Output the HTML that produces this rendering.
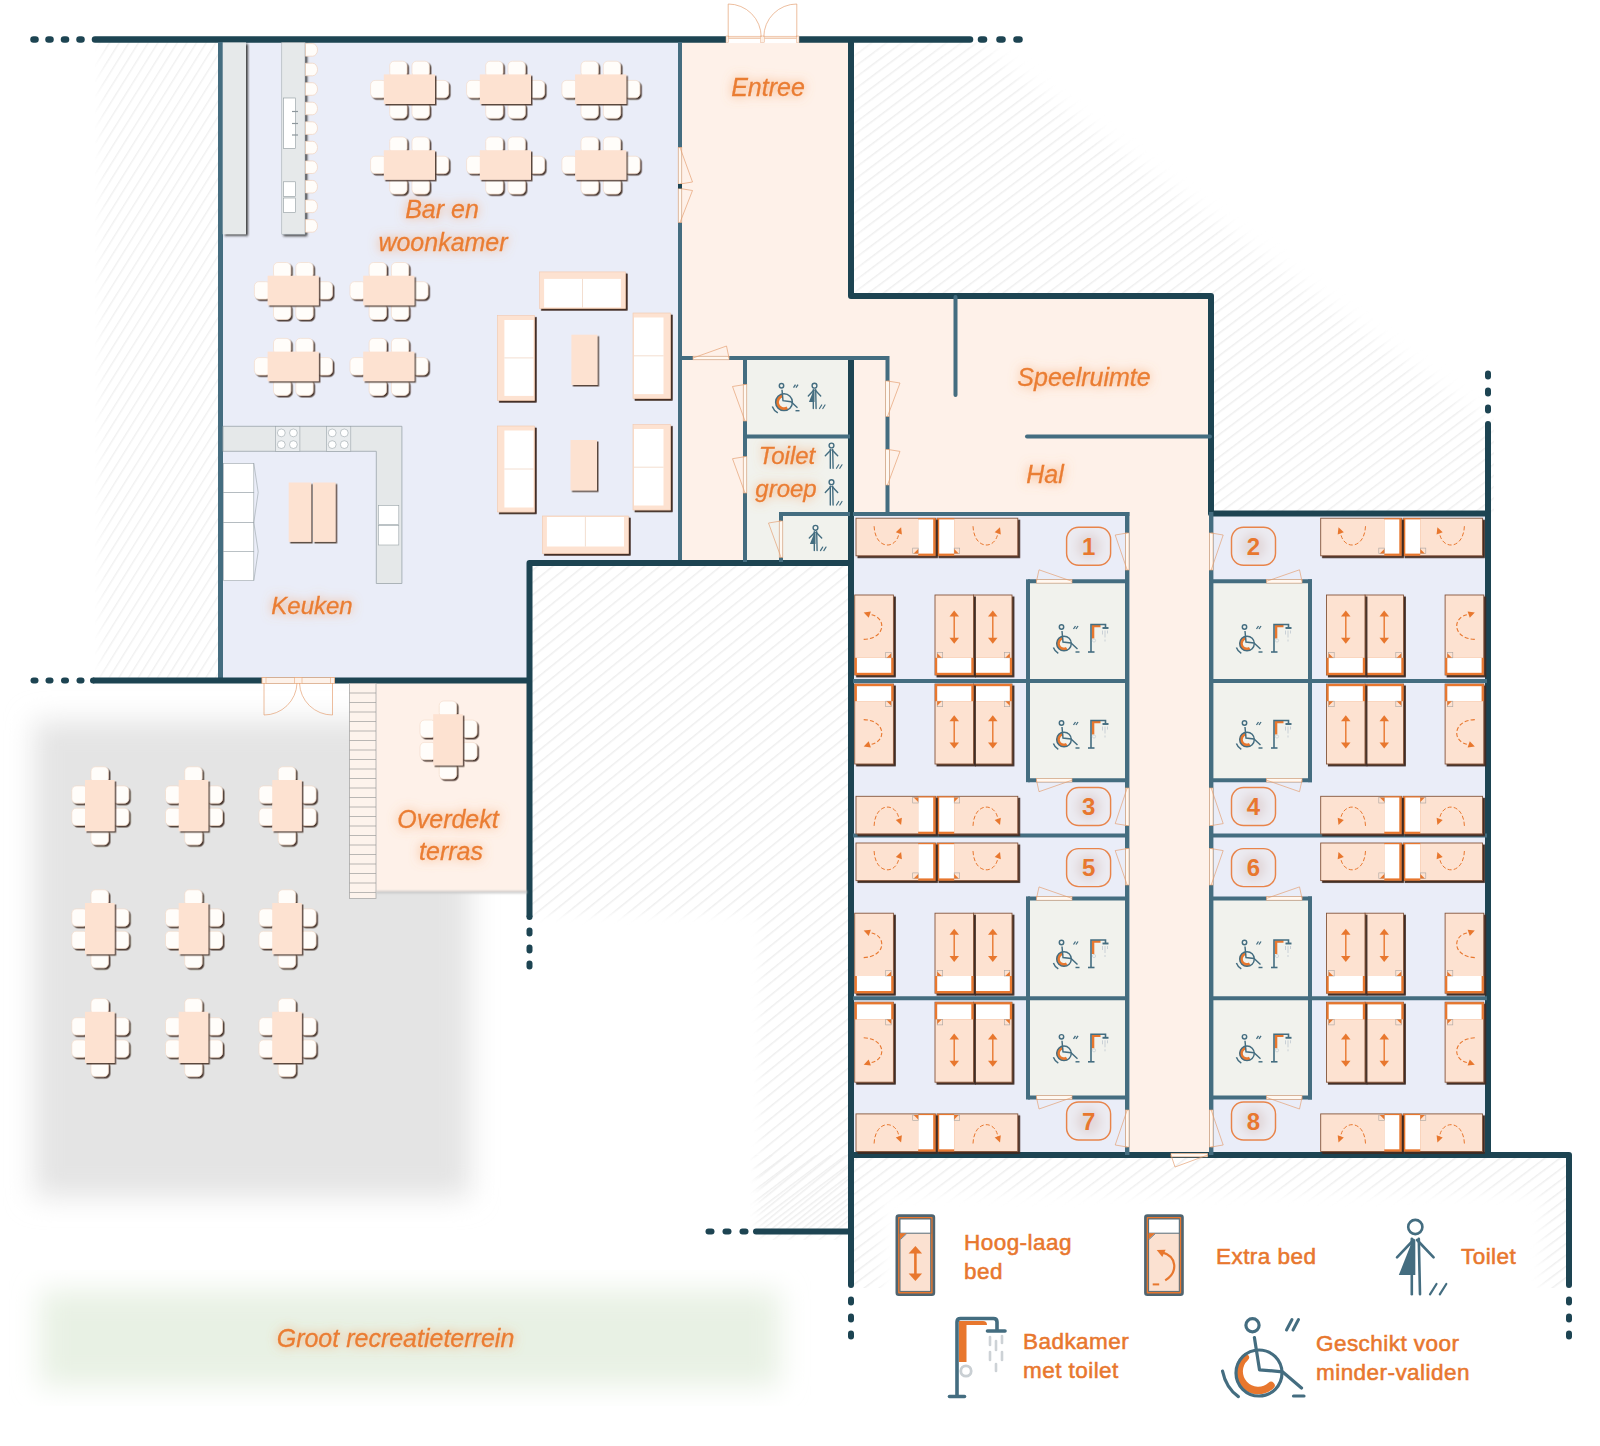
<!DOCTYPE html>
<html><head><meta charset="utf-8"><title>Plattegrond</title>
<style>
html,body{margin:0;padding:0;background:#fff;width:1600px;height:1446px;overflow:hidden}
svg{display:block}
text{font-family:"Liberation Sans",sans-serif}
</style></head><body>
<svg width="1600" height="1446" viewBox="0 0 1600 1446">

<defs>
<pattern id="hatch" patternUnits="userSpaceOnUse" width="9" height="10" patternTransform="rotate(53)">
  <rect x="0" y="0" width="1.5" height="10" fill="#efefef"/>
</pattern>
<pattern id="hatch3" patternUnits="userSpaceOnUse" width="9.6" height="10" patternTransform="rotate(51)">
  <rect x="0" y="0" width="1.5" height="10" fill="#efefef"/>
</pattern>
<pattern id="hatch2" patternUnits="userSpaceOnUse" width="8.2" height="10" patternTransform="rotate(32)">
  <rect x="0" y="0" width="1.4" height="10" fill="#f1f1f1"/>
</pattern>
<filter id="blur1" x="-20%" y="-200%" width="140%" height="500%"><feGaussianBlur stdDeviation="0.8"/></filter>
<filter id="blur4" x="-20%" y="-20%" width="140%" height="140%"><feGaussianBlur stdDeviation="4"/></filter>
<filter id="blur6" x="-20%" y="-20%" width="140%" height="140%"><feGaussianBlur stdDeviation="6"/></filter>
<filter id="blur8" x="-20%" y="-20%" width="140%" height="140%"><feGaussianBlur stdDeviation="8"/></filter>
<filter id="blur14" x="-20%" y="-20%" width="140%" height="140%"><feGaussianBlur stdDeviation="14"/></filter>
<filter id="sh" x="-20%" y="-20%" width="150%" height="150%">
  <feDropShadow dx="1.5" dy="1.5" stdDeviation="0.7" flood-color="#4a3428" flood-opacity="0.9"/>
</filter>
<filter id="shb" x="-20%" y="-20%" width="150%" height="150%">
  <feDropShadow dx="1.9" dy="1.9" stdDeviation="0.7" flood-color="#3f2a20" flood-opacity="1"/>
</filter>
<filter id="sh3" x="-20%" y="-20%" width="150%" height="150%">
  <feDropShadow dx="2" dy="1.6" stdDeviation="0.9" flood-color="#2e2e2e" flood-opacity="0.9"/>
</filter>
<filter id="sh2" x="-20%" y="-20%" width="150%" height="150%">
  <feDropShadow dx="1.6" dy="1.6" stdDeviation="0.7" flood-color="#3f2a20" flood-opacity="0.95"/>
</filter>
<filter id="glow" x="-40%" y="-120%" width="180%" height="340%">
  <feGaussianBlur in="SourceAlpha" stdDeviation="5.5" result="b"/>
  <feFlood flood-color="#f5a063" flood-opacity="0.9"/>
  <feComposite in2="b" operator="in" result="g"/>
  <feMerge><feMergeNode in="g"/><feMergeNode in="SourceGraphic"/></feMerge>
</filter>
<mask id="mTR" maskUnits="userSpaceOnUse" x="0" y="0" width="1600" height="1446">
  <polygon points="854,42 975,42 1500,430 1500,520 854,520" fill="#fff" filter="url(#blur8)"/>
</mask>
<mask id="mL" maskUnits="userSpaceOnUse" x="0" y="0" width="1600" height="1446">
  <rect x="100" y="30" width="140" height="660" fill="#fff" filter="url(#blur4)"/>
</mask>
<mask id="mC" maskUnits="userSpaceOnUse" x="0" y="0" width="1600" height="1446">
  <polygon points="520,555 860,555 860,1240 760,1240 760,915 520,915" fill="#fff" filter="url(#blur4)"/>
</mask>
<mask id="mB" maskUnits="userSpaceOnUse" x="0" y="0" width="1600" height="1446">
  <rect x="756" y="1140" width="96" height="92" fill="#fff" filter="url(#blur4)"/>
  <rect x="852" y="1158" width="716" height="130" fill="#fff"/>
  <rect x="882" y="1194" width="660" height="260" fill="#000" filter="url(#blur6)"/>
</mask>
</defs>

<rect x="0.0" y="0.0" width="1600.0" height="1446.0" fill="#ffffff" />
<rect x="95.0" y="42.0" width="124.0" height="636.0" fill="url(#hatch2)" mask="url(#mL)"/>
<rect x="854.0" y="42.0" width="640.0" height="475.0" fill="url(#hatch)" mask="url(#mTR)"/>
<rect x="530.0" y="560.0" width="322.0" height="680.0" fill="url(#hatch3)" mask="url(#mC)"/>
<rect x="750.0" y="1155.0" width="830.0" height="260.0" fill="url(#hatch)" mask="url(#mB)"/>
<rect x="34.0" y="721.0" width="436.0" height="476.0" fill="#e4e4e4" filter="url(#blur14)"/>
<rect x="40.0" y="1290.0" width="740.0" height="96.0" fill="#e8f1e4" filter="url(#blur14)"/>
<rect x="220.0" y="42.0" width="460.0" height="523.0" fill="#eaedf8" />
<rect x="220.0" y="560.0" width="310.0" height="120.0" fill="#eaedf8" />
<rect x="680.0" y="42.0" width="170.0" height="316.0" fill="#fef1e9" />
<rect x="680.0" y="356.0" width="66.0" height="206.0" fill="#fef1e9" />
<rect x="850.0" y="296.0" width="362.0" height="220.0" fill="#fef1e9" />
<rect x="1127.0" y="512.0" width="84.0" height="642.0" fill="#fef1e9" />
<rect x="745.0" y="358.0" width="106.0" height="204.0" fill="#f1f2ed" />
<rect x="852.0" y="514.0" width="276.0" height="640.0" fill="#eaedf8" />
<rect x="1211.0" y="514.0" width="276.0" height="640.0" fill="#eaedf8" />
<rect x="1028.0" y="581.0" width="100.0" height="199.0" fill="#f1f2ed" />
<rect x="1211.0" y="581.0" width="99.0" height="199.0" fill="#f1f2ed" />
<rect x="1028.0" y="898.0" width="100.0" height="199.0" fill="#f1f2ed" />
<rect x="1211.0" y="898.0" width="99.0" height="199.0" fill="#f1f2ed" />
<rect x="376.0" y="682.0" width="153.0" height="210.0" fill="#fef1e9" />
<line x1="95.0" y1="39.5" x2="970.0" y2="39.5" stroke="#1d4452" stroke-width="6.5" stroke-linecap="round" />
<line x1="33.5" y1="39.5" x2="35.5" y2="39.5" stroke="#1d4452" stroke-width="6.5" stroke-linecap="round" />
<line x1="48.5" y1="39.5" x2="50.5" y2="39.5" stroke="#1d4452" stroke-width="6.5" stroke-linecap="round" />
<line x1="64.0" y1="39.5" x2="66.0" y2="39.5" stroke="#1d4452" stroke-width="6.5" stroke-linecap="round" />
<line x1="79.5" y1="39.5" x2="81.5" y2="39.5" stroke="#1d4452" stroke-width="6.5" stroke-linecap="round" />
<line x1="981.0" y1="39.5" x2="984.0" y2="39.5" stroke="#1d4452" stroke-width="6.5" stroke-linecap="round" />
<line x1="999.5" y1="39.5" x2="1002.5" y2="39.5" stroke="#1d4452" stroke-width="6.5" stroke-linecap="round" />
<line x1="1016.5" y1="39.5" x2="1019.5" y2="39.5" stroke="#1d4452" stroke-width="6.5" stroke-linecap="round" />
<line x1="220.5" y1="42.0" x2="220.5" y2="680.0" stroke="#446d80" stroke-width="5" stroke-linecap="butt" />
<line x1="680.0" y1="42.0" x2="680.0" y2="560.0" stroke="#446d80" stroke-width="4" stroke-linecap="butt" />
<path d="M851.0,37.0 L851.0,296.0 L1211.0,296.0 L1211.0,513.5 L1488.0,513.5" fill="none" stroke="#1d4452" stroke-width="6" stroke-linecap="butt" stroke-linejoin="round"/>
<path d="M1488.0,424.0 L1488.0,1155.0" fill="none" stroke="#1d4452" stroke-width="6" stroke-linecap="round" stroke-linejoin="round"/>
<line x1="1488.0" y1="373.5" x2="1488.0" y2="376.5" stroke="#1d4452" stroke-width="6" stroke-linecap="round" />
<line x1="1488.0" y1="390.5" x2="1488.0" y2="393.5" stroke="#1d4452" stroke-width="6" stroke-linecap="round" />
<line x1="1488.0" y1="407.5" x2="1488.0" y2="410.5" stroke="#1d4452" stroke-width="6" stroke-linecap="round" />
<path d="M851.0,356.5 L851.0,1285.0" fill="none" stroke="#1d4452" stroke-width="6" stroke-linecap="butt" stroke-linejoin="round"/>
<circle cx="851" cy="1285" r="3" fill="#1d4452"/>
<line x1="851.0" y1="1299.5" x2="851.0" y2="1302.5" stroke="#1d4452" stroke-width="6" stroke-linecap="round" />
<line x1="851.0" y1="1316.5" x2="851.0" y2="1319.5" stroke="#1d4452" stroke-width="6" stroke-linecap="round" />
<line x1="851.0" y1="1333.5" x2="851.0" y2="1336.5" stroke="#1d4452" stroke-width="6" stroke-linecap="round" />
<path d="M848.0,1155.0 L1569.0,1155.0 L1569.0,1285.0" fill="none" stroke="#1d4452" stroke-width="6" stroke-linecap="butt" stroke-linejoin="round"/>
<circle cx="1569" cy="1285" r="3" fill="#1d4452"/>
<line x1="1569.0" y1="1299.5" x2="1569.0" y2="1302.5" stroke="#1d4452" stroke-width="6" stroke-linecap="round" />
<line x1="1569.0" y1="1316.5" x2="1569.0" y2="1319.5" stroke="#1d4452" stroke-width="6" stroke-linecap="round" />
<line x1="1569.0" y1="1333.5" x2="1569.0" y2="1336.5" stroke="#1d4452" stroke-width="6" stroke-linecap="round" />
<line x1="756.0" y1="1231.5" x2="851.0" y2="1231.5" stroke="#1d4452" stroke-width="6" stroke-linecap="round" />
<line x1="708.5" y1="1231.5" x2="711.5" y2="1231.5" stroke="#1d4452" stroke-width="6" stroke-linecap="round" />
<line x1="725.5" y1="1231.5" x2="728.5" y2="1231.5" stroke="#1d4452" stroke-width="6" stroke-linecap="round" />
<line x1="742.5" y1="1231.5" x2="745.5" y2="1231.5" stroke="#1d4452" stroke-width="6" stroke-linecap="round" />
<path d="M93.0,680.5 L529.5,680.5" fill="none" stroke="#1d4452" stroke-width="6" stroke-linecap="butt" stroke-linejoin="round"/>
<circle cx="93" cy="680.5" r="3" fill="#1d4452"/>
<line x1="33.5" y1="680.5" x2="35.5" y2="680.5" stroke="#1d4452" stroke-width="6" stroke-linecap="round" />
<line x1="48.5" y1="680.5" x2="50.5" y2="680.5" stroke="#1d4452" stroke-width="6" stroke-linecap="round" />
<line x1="64.0" y1="680.5" x2="66.0" y2="680.5" stroke="#1d4452" stroke-width="6" stroke-linecap="round" />
<line x1="79.5" y1="680.5" x2="81.5" y2="680.5" stroke="#1d4452" stroke-width="6" stroke-linecap="round" />
<path d="M529.5,917.0 L529.5,563.0 L851.0,563.0" fill="none" stroke="#1d4452" stroke-width="6" stroke-linecap="butt" stroke-linejoin="round"/>
<circle cx="529.5" cy="917" r="3" fill="#1d4452"/>
<line x1="529.5" y1="930.5" x2="529.5" y2="933.5" stroke="#1d4452" stroke-width="6" stroke-linecap="round" />
<line x1="529.5" y1="947.5" x2="529.5" y2="950.5" stroke="#1d4452" stroke-width="6" stroke-linecap="round" />
<line x1="529.5" y1="963.5" x2="529.5" y2="966.5" stroke="#1d4452" stroke-width="6" stroke-linecap="round" />
<line x1="680.0" y1="358.0" x2="888.0" y2="358.0" stroke="#446d80" stroke-width="4" stroke-linecap="butt" />
<line x1="745.0" y1="358.0" x2="745.0" y2="562.0" stroke="#446d80" stroke-width="4" stroke-linecap="butt" />
<line x1="747.0" y1="436.5" x2="850.0" y2="436.5" stroke="#446d80" stroke-width="4" stroke-linecap="butt" />
<line x1="779.0" y1="514.0" x2="850.0" y2="514.0" stroke="#446d80" stroke-width="4" stroke-linecap="butt" />
<line x1="781.0" y1="514.0" x2="781.0" y2="562.0" stroke="#446d80" stroke-width="4" stroke-linecap="butt" />
<line x1="887.5" y1="356.0" x2="887.5" y2="516.0" stroke="#446d80" stroke-width="4" stroke-linecap="butt" />
<line x1="955.5" y1="297.0" x2="955.5" y2="395.0" stroke="#446d80" stroke-width="4" stroke-linecap="round" />
<line x1="1027.0" y1="436.5" x2="1210.0" y2="436.5" stroke="#446d80" stroke-width="4" stroke-linecap="round" />
<line x1="853.0" y1="514.0" x2="1129.4" y2="514.0" stroke="#446d80" stroke-width="4.2" stroke-linecap="butt" />
<line x1="1127.2" y1="512.0" x2="1127.2" y2="1155.0" stroke="#446d80" stroke-width="4.4" stroke-linecap="butt" />
<line x1="853.0" y1="835.5" x2="1129.0" y2="835.5" stroke="#446d80" stroke-width="4.2" stroke-linecap="butt" />
<line x1="1211.2" y1="512.0" x2="1211.2" y2="1155.0" stroke="#446d80" stroke-width="4.4" stroke-linecap="butt" />
<line x1="1211.0" y1="835.5" x2="1487.0" y2="835.5" stroke="#446d80" stroke-width="4.2" stroke-linecap="butt" />
<line x1="1028.0" y1="581.3" x2="1128.0" y2="581.3" stroke="#446d80" stroke-width="4" stroke-linecap="butt" />
<line x1="1028.0" y1="579.3" x2="1028.0" y2="782.2" stroke="#446d80" stroke-width="4" stroke-linecap="butt" />
<line x1="1028.0" y1="780.2" x2="1128.0" y2="780.2" stroke="#446d80" stroke-width="4" stroke-linecap="butt" />
<line x1="853.0" y1="680.9" x2="1128.0" y2="680.9" stroke="#446d80" stroke-width="4" stroke-linecap="butt" />
<line x1="1210.0" y1="581.3" x2="1312.0" y2="581.3" stroke="#446d80" stroke-width="4" stroke-linecap="butt" />
<line x1="1310.0" y1="579.3" x2="1310.0" y2="782.2" stroke="#446d80" stroke-width="4" stroke-linecap="butt" />
<line x1="1210.0" y1="780.2" x2="1312.0" y2="780.2" stroke="#446d80" stroke-width="4" stroke-linecap="butt" />
<line x1="1210.0" y1="680.9" x2="1487.0" y2="680.9" stroke="#446d80" stroke-width="4" stroke-linecap="butt" />
<line x1="1028.0" y1="898.4" x2="1128.0" y2="898.4" stroke="#446d80" stroke-width="4" stroke-linecap="butt" />
<line x1="1028.0" y1="896.4" x2="1028.0" y2="1099.5" stroke="#446d80" stroke-width="4" stroke-linecap="butt" />
<line x1="1028.0" y1="1097.5" x2="1128.0" y2="1097.5" stroke="#446d80" stroke-width="4" stroke-linecap="butt" />
<line x1="853.0" y1="998.2" x2="1128.0" y2="998.2" stroke="#446d80" stroke-width="4" stroke-linecap="butt" />
<line x1="1210.0" y1="898.4" x2="1312.0" y2="898.4" stroke="#446d80" stroke-width="4" stroke-linecap="butt" />
<line x1="1310.0" y1="896.4" x2="1310.0" y2="1099.5" stroke="#446d80" stroke-width="4" stroke-linecap="butt" />
<line x1="1210.0" y1="1097.5" x2="1312.0" y2="1097.5" stroke="#446d80" stroke-width="4" stroke-linecap="butt" />
<line x1="1210.0" y1="998.2" x2="1487.0" y2="998.2" stroke="#446d80" stroke-width="4" stroke-linecap="butt" />
<rect x="222.7" y="42.5" width="23.3" height="191.7" fill="#e6e9ea" filter="url(#sh3)" />
<rect x="281.8" y="42.5" width="23.2" height="191.7" fill="#e6e9ea" stroke="#9aa3a8" stroke-width="0.5" filter="url(#sh3)" />
<rect x="283.4" y="98.0" width="12.3" height="50.3" fill="#ffffff" stroke="#8d979c" stroke-width="0.6" />
<line x1="292.0" y1="111.5" x2="298.0" y2="111.5" stroke="#8d979c" stroke-width="1.2" stroke-linecap="butt" />
<line x1="292.0" y1="123.5" x2="298.0" y2="123.5" stroke="#8d979c" stroke-width="1.2" stroke-linecap="butt" />
<line x1="292.0" y1="135.0" x2="298.0" y2="135.0" stroke="#8d979c" stroke-width="1.2" stroke-linecap="butt" />
<rect x="283.4" y="181.8" width="12.3" height="14.7" fill="#ffffff" stroke="#8d979c" stroke-width="0.6" />
<rect x="283.4" y="198.0" width="12.3" height="14.6" fill="#ffffff" stroke="#8d979c" stroke-width="0.6" />
<path d="M305.5,43.6 h7 a5,6.3 0 0 1 0,12.6 h-7 z" fill="#fffdfa" stroke="#f2d3bd" stroke-width="0.7"/>
<path d="M305.5,63.2 h7 a5,6.3 0 0 1 0,12.6 h-7 z" fill="#fffdfa" stroke="#f2d3bd" stroke-width="0.7"/>
<path d="M305.5,82.7 h7 a5,6.3 0 0 1 0,12.6 h-7 z" fill="#fffdfa" stroke="#f2d3bd" stroke-width="0.7"/>
<path d="M305.5,102.2 h7 a5,6.3 0 0 1 0,12.6 h-7 z" fill="#fffdfa" stroke="#f2d3bd" stroke-width="0.7"/>
<path d="M305.5,121.8 h7 a5,6.3 0 0 1 0,12.6 h-7 z" fill="#fffdfa" stroke="#f2d3bd" stroke-width="0.7"/>
<path d="M305.5,141.3 h7 a5,6.3 0 0 1 0,12.6 h-7 z" fill="#fffdfa" stroke="#f2d3bd" stroke-width="0.7"/>
<path d="M305.5,160.9 h7 a5,6.3 0 0 1 0,12.6 h-7 z" fill="#fffdfa" stroke="#f2d3bd" stroke-width="0.7"/>
<path d="M305.5,180.4 h7 a5,6.3 0 0 1 0,12.6 h-7 z" fill="#fffdfa" stroke="#f2d3bd" stroke-width="0.7"/>
<path d="M305.5,200.0 h7 a5,6.3 0 0 1 0,12.6 h-7 z" fill="#fffdfa" stroke="#f2d3bd" stroke-width="0.7"/>
<path d="M305.5,219.6 h7 a5,6.3 0 0 1 0,12.6 h-7 z" fill="#fffdfa" stroke="#f2d3bd" stroke-width="0.7"/>
<rect x="389.7" y="61.2" width="17.3" height="16.0" rx="4.5" fill="#fffdfa" stroke="#f3d9c6" stroke-width="0.6" filter="url(#sh2)" />
<rect x="412.0" y="61.2" width="17.3" height="16.0" rx="4.5" fill="#fffdfa" stroke="#f3d9c6" stroke-width="0.6" filter="url(#sh2)" />
<rect x="389.7" y="102.2" width="17.3" height="16.0" rx="4.5" fill="#fffdfa" stroke="#f3d9c6" stroke-width="0.6" filter="url(#sh2)" />
<rect x="412.0" y="102.2" width="17.3" height="16.0" rx="4.5" fill="#fffdfa" stroke="#f3d9c6" stroke-width="0.6" filter="url(#sh2)" />
<rect x="370.6" y="80.4" width="16.0" height="17.4" rx="4.5" fill="#fffdfa" stroke="#f3d9c6" stroke-width="0.6" filter="url(#sh2)" />
<rect x="432.6" y="80.4" width="16.0" height="17.4" rx="4.5" fill="#fffdfa" stroke="#f3d9c6" stroke-width="0.6" filter="url(#sh2)" />
<rect x="383.8" y="74.4" width="51.2" height="29.6" fill="#fde2d1" filter="url(#sh)" />
<rect x="389.7" y="137.0" width="17.3" height="16.0" rx="4.5" fill="#fffdfa" stroke="#f3d9c6" stroke-width="0.6" filter="url(#sh2)" />
<rect x="412.0" y="137.0" width="17.3" height="16.0" rx="4.5" fill="#fffdfa" stroke="#f3d9c6" stroke-width="0.6" filter="url(#sh2)" />
<rect x="389.7" y="178.0" width="17.3" height="16.0" rx="4.5" fill="#fffdfa" stroke="#f3d9c6" stroke-width="0.6" filter="url(#sh2)" />
<rect x="412.0" y="178.0" width="17.3" height="16.0" rx="4.5" fill="#fffdfa" stroke="#f3d9c6" stroke-width="0.6" filter="url(#sh2)" />
<rect x="370.6" y="156.2" width="16.0" height="17.4" rx="4.5" fill="#fffdfa" stroke="#f3d9c6" stroke-width="0.6" filter="url(#sh2)" />
<rect x="432.6" y="156.2" width="16.0" height="17.4" rx="4.5" fill="#fffdfa" stroke="#f3d9c6" stroke-width="0.6" filter="url(#sh2)" />
<rect x="383.8" y="150.2" width="51.2" height="29.6" fill="#fde2d1" filter="url(#sh)" />
<rect x="485.7" y="61.2" width="17.3" height="16.0" rx="4.5" fill="#fffdfa" stroke="#f3d9c6" stroke-width="0.6" filter="url(#sh2)" />
<rect x="508.0" y="61.2" width="17.3" height="16.0" rx="4.5" fill="#fffdfa" stroke="#f3d9c6" stroke-width="0.6" filter="url(#sh2)" />
<rect x="485.7" y="102.2" width="17.3" height="16.0" rx="4.5" fill="#fffdfa" stroke="#f3d9c6" stroke-width="0.6" filter="url(#sh2)" />
<rect x="508.0" y="102.2" width="17.3" height="16.0" rx="4.5" fill="#fffdfa" stroke="#f3d9c6" stroke-width="0.6" filter="url(#sh2)" />
<rect x="466.6" y="80.4" width="16.0" height="17.4" rx="4.5" fill="#fffdfa" stroke="#f3d9c6" stroke-width="0.6" filter="url(#sh2)" />
<rect x="528.6" y="80.4" width="16.0" height="17.4" rx="4.5" fill="#fffdfa" stroke="#f3d9c6" stroke-width="0.6" filter="url(#sh2)" />
<rect x="479.8" y="74.4" width="51.2" height="29.6" fill="#fde2d1" filter="url(#sh)" />
<rect x="485.7" y="137.0" width="17.3" height="16.0" rx="4.5" fill="#fffdfa" stroke="#f3d9c6" stroke-width="0.6" filter="url(#sh2)" />
<rect x="508.0" y="137.0" width="17.3" height="16.0" rx="4.5" fill="#fffdfa" stroke="#f3d9c6" stroke-width="0.6" filter="url(#sh2)" />
<rect x="485.7" y="178.0" width="17.3" height="16.0" rx="4.5" fill="#fffdfa" stroke="#f3d9c6" stroke-width="0.6" filter="url(#sh2)" />
<rect x="508.0" y="178.0" width="17.3" height="16.0" rx="4.5" fill="#fffdfa" stroke="#f3d9c6" stroke-width="0.6" filter="url(#sh2)" />
<rect x="466.6" y="156.2" width="16.0" height="17.4" rx="4.5" fill="#fffdfa" stroke="#f3d9c6" stroke-width="0.6" filter="url(#sh2)" />
<rect x="528.6" y="156.2" width="16.0" height="17.4" rx="4.5" fill="#fffdfa" stroke="#f3d9c6" stroke-width="0.6" filter="url(#sh2)" />
<rect x="479.8" y="150.2" width="51.2" height="29.6" fill="#fde2d1" filter="url(#sh)" />
<rect x="581.0" y="61.2" width="17.3" height="16.0" rx="4.5" fill="#fffdfa" stroke="#f3d9c6" stroke-width="0.6" filter="url(#sh2)" />
<rect x="603.3" y="61.2" width="17.3" height="16.0" rx="4.5" fill="#fffdfa" stroke="#f3d9c6" stroke-width="0.6" filter="url(#sh2)" />
<rect x="581.0" y="102.2" width="17.3" height="16.0" rx="4.5" fill="#fffdfa" stroke="#f3d9c6" stroke-width="0.6" filter="url(#sh2)" />
<rect x="603.3" y="102.2" width="17.3" height="16.0" rx="4.5" fill="#fffdfa" stroke="#f3d9c6" stroke-width="0.6" filter="url(#sh2)" />
<rect x="561.9" y="80.4" width="16.0" height="17.4" rx="4.5" fill="#fffdfa" stroke="#f3d9c6" stroke-width="0.6" filter="url(#sh2)" />
<rect x="623.9" y="80.4" width="16.0" height="17.4" rx="4.5" fill="#fffdfa" stroke="#f3d9c6" stroke-width="0.6" filter="url(#sh2)" />
<rect x="575.1" y="74.4" width="51.2" height="29.6" fill="#fde2d1" filter="url(#sh)" />
<rect x="581.0" y="137.0" width="17.3" height="16.0" rx="4.5" fill="#fffdfa" stroke="#f3d9c6" stroke-width="0.6" filter="url(#sh2)" />
<rect x="603.3" y="137.0" width="17.3" height="16.0" rx="4.5" fill="#fffdfa" stroke="#f3d9c6" stroke-width="0.6" filter="url(#sh2)" />
<rect x="581.0" y="178.0" width="17.3" height="16.0" rx="4.5" fill="#fffdfa" stroke="#f3d9c6" stroke-width="0.6" filter="url(#sh2)" />
<rect x="603.3" y="178.0" width="17.3" height="16.0" rx="4.5" fill="#fffdfa" stroke="#f3d9c6" stroke-width="0.6" filter="url(#sh2)" />
<rect x="561.9" y="156.2" width="16.0" height="17.4" rx="4.5" fill="#fffdfa" stroke="#f3d9c6" stroke-width="0.6" filter="url(#sh2)" />
<rect x="623.9" y="156.2" width="16.0" height="17.4" rx="4.5" fill="#fffdfa" stroke="#f3d9c6" stroke-width="0.6" filter="url(#sh2)" />
<rect x="575.1" y="150.2" width="51.2" height="29.6" fill="#fde2d1" filter="url(#sh)" />
<rect x="273.5" y="262.5" width="17.3" height="16.0" rx="4.5" fill="#fffdfa" stroke="#f3d9c6" stroke-width="0.6" filter="url(#sh2)" />
<rect x="295.8" y="262.5" width="17.3" height="16.0" rx="4.5" fill="#fffdfa" stroke="#f3d9c6" stroke-width="0.6" filter="url(#sh2)" />
<rect x="273.5" y="303.5" width="17.3" height="16.0" rx="4.5" fill="#fffdfa" stroke="#f3d9c6" stroke-width="0.6" filter="url(#sh2)" />
<rect x="295.8" y="303.5" width="17.3" height="16.0" rx="4.5" fill="#fffdfa" stroke="#f3d9c6" stroke-width="0.6" filter="url(#sh2)" />
<rect x="254.4" y="281.7" width="16.0" height="17.4" rx="4.5" fill="#fffdfa" stroke="#f3d9c6" stroke-width="0.6" filter="url(#sh2)" />
<rect x="316.4" y="281.7" width="16.0" height="17.4" rx="4.5" fill="#fffdfa" stroke="#f3d9c6" stroke-width="0.6" filter="url(#sh2)" />
<rect x="267.6" y="275.7" width="51.2" height="29.6" fill="#fde2d1" filter="url(#sh)" />
<rect x="273.5" y="338.4" width="17.3" height="16.0" rx="4.5" fill="#fffdfa" stroke="#f3d9c6" stroke-width="0.6" filter="url(#sh2)" />
<rect x="295.8" y="338.4" width="17.3" height="16.0" rx="4.5" fill="#fffdfa" stroke="#f3d9c6" stroke-width="0.6" filter="url(#sh2)" />
<rect x="273.5" y="379.4" width="17.3" height="16.0" rx="4.5" fill="#fffdfa" stroke="#f3d9c6" stroke-width="0.6" filter="url(#sh2)" />
<rect x="295.8" y="379.4" width="17.3" height="16.0" rx="4.5" fill="#fffdfa" stroke="#f3d9c6" stroke-width="0.6" filter="url(#sh2)" />
<rect x="254.4" y="357.6" width="16.0" height="17.4" rx="4.5" fill="#fffdfa" stroke="#f3d9c6" stroke-width="0.6" filter="url(#sh2)" />
<rect x="316.4" y="357.6" width="16.0" height="17.4" rx="4.5" fill="#fffdfa" stroke="#f3d9c6" stroke-width="0.6" filter="url(#sh2)" />
<rect x="267.6" y="351.6" width="51.2" height="29.6" fill="#fde2d1" filter="url(#sh)" />
<rect x="369.1" y="262.5" width="17.3" height="16.0" rx="4.5" fill="#fffdfa" stroke="#f3d9c6" stroke-width="0.6" filter="url(#sh2)" />
<rect x="391.4" y="262.5" width="17.3" height="16.0" rx="4.5" fill="#fffdfa" stroke="#f3d9c6" stroke-width="0.6" filter="url(#sh2)" />
<rect x="369.1" y="303.5" width="17.3" height="16.0" rx="4.5" fill="#fffdfa" stroke="#f3d9c6" stroke-width="0.6" filter="url(#sh2)" />
<rect x="391.4" y="303.5" width="17.3" height="16.0" rx="4.5" fill="#fffdfa" stroke="#f3d9c6" stroke-width="0.6" filter="url(#sh2)" />
<rect x="350.0" y="281.7" width="16.0" height="17.4" rx="4.5" fill="#fffdfa" stroke="#f3d9c6" stroke-width="0.6" filter="url(#sh2)" />
<rect x="412.0" y="281.7" width="16.0" height="17.4" rx="4.5" fill="#fffdfa" stroke="#f3d9c6" stroke-width="0.6" filter="url(#sh2)" />
<rect x="363.2" y="275.7" width="51.2" height="29.6" fill="#fde2d1" filter="url(#sh)" />
<rect x="369.1" y="338.4" width="17.3" height="16.0" rx="4.5" fill="#fffdfa" stroke="#f3d9c6" stroke-width="0.6" filter="url(#sh2)" />
<rect x="391.4" y="338.4" width="17.3" height="16.0" rx="4.5" fill="#fffdfa" stroke="#f3d9c6" stroke-width="0.6" filter="url(#sh2)" />
<rect x="369.1" y="379.4" width="17.3" height="16.0" rx="4.5" fill="#fffdfa" stroke="#f3d9c6" stroke-width="0.6" filter="url(#sh2)" />
<rect x="391.4" y="379.4" width="17.3" height="16.0" rx="4.5" fill="#fffdfa" stroke="#f3d9c6" stroke-width="0.6" filter="url(#sh2)" />
<rect x="350.0" y="357.6" width="16.0" height="17.4" rx="4.5" fill="#fffdfa" stroke="#f3d9c6" stroke-width="0.6" filter="url(#sh2)" />
<rect x="412.0" y="357.6" width="16.0" height="17.4" rx="4.5" fill="#fffdfa" stroke="#f3d9c6" stroke-width="0.6" filter="url(#sh2)" />
<rect x="363.2" y="351.6" width="51.2" height="29.6" fill="#fde2d1" filter="url(#sh)" />
<rect x="539.6" y="271.9" width="85.8" height="36.5" fill="#fde2d1" stroke="#f2c9ad" stroke-width="0.6" filter="url(#shb)" />
<rect x="544.1" y="278.9" width="76.8" height="28.5" fill="#ffffff" />
<line x1="582.5" y1="278.9" x2="582.5" y2="307.4" stroke="#f0d6c4" stroke-width="0.8" stroke-linecap="butt" />
<rect x="497.4" y="315.5" width="37.1" height="84.9" fill="#fde2d1" stroke="#f2c9ad" stroke-width="0.6" filter="url(#shb)" />
<rect x="504.4" y="320.0" width="29.1" height="75.9" fill="#ffffff" />
<line x1="504.4" y1="357.9" x2="533.5" y2="357.9" stroke="#f0d6c4" stroke-width="0.8" stroke-linecap="butt" />
<rect x="633.0" y="313.0" width="37.5" height="85.6" fill="#fde2d1" stroke="#f2c9ad" stroke-width="0.6" filter="url(#shb)" />
<rect x="634.0" y="317.5" width="29.5" height="76.6" fill="#ffffff" />
<line x1="634.0" y1="355.8" x2="663.5" y2="355.8" stroke="#f0d6c4" stroke-width="0.8" stroke-linecap="butt" />
<rect x="571.4" y="334.7" width="26.1" height="50.3" fill="#fde2d1" filter="url(#sh)" />
<rect x="497.4" y="426.0" width="37.1" height="86.0" fill="#fde2d1" stroke="#f2c9ad" stroke-width="0.6" filter="url(#shb)" />
<rect x="504.4" y="430.5" width="29.1" height="77.0" fill="#ffffff" />
<line x1="504.4" y1="469.0" x2="533.5" y2="469.0" stroke="#f0d6c4" stroke-width="0.8" stroke-linecap="butt" />
<rect x="633.0" y="424.5" width="37.5" height="85.5" fill="#fde2d1" stroke="#f2c9ad" stroke-width="0.6" filter="url(#shb)" />
<rect x="634.0" y="429.0" width="29.5" height="76.5" fill="#ffffff" />
<line x1="634.0" y1="467.2" x2="663.5" y2="467.2" stroke="#f0d6c4" stroke-width="0.8" stroke-linecap="butt" />
<rect x="570.5" y="440.0" width="26.5" height="50.5" fill="#fde2d1" filter="url(#sh)" />
<rect x="542.4" y="516.0" width="86.1" height="37.5" fill="#fde2d1" stroke="#f2c9ad" stroke-width="0.6" filter="url(#shb)" />
<rect x="546.9" y="517.0" width="77.1" height="29.5" fill="#ffffff" />
<line x1="585.4" y1="517.0" x2="585.4" y2="546.5" stroke="#f0d6c4" stroke-width="0.8" stroke-linecap="butt" />
<path d="M223,426.3 H401.9 V583.5 H376.3 V451.3 H223 Z" fill="#e5e8e9" stroke="#9aa4a9" stroke-width="0.8"/>
<rect x="275.4" y="426.3" width="24.5" height="25" fill="#e9ecee" stroke="#9aa4a9" stroke-width="0.6"/>
<circle cx="281.3" cy="432.9" r="3.9" fill="#fff" stroke="#9aa4a9" stroke-width="0.6"/>
<circle cx="281.3" cy="444.6" r="3.9" fill="#fff" stroke="#9aa4a9" stroke-width="0.6"/>
<circle cx="293.4" cy="432.9" r="3.9" fill="#fff" stroke="#9aa4a9" stroke-width="0.6"/>
<circle cx="293.4" cy="444.6" r="3.9" fill="#fff" stroke="#9aa4a9" stroke-width="0.6"/>
<rect x="326.3" y="426.3" width="24.5" height="25" fill="#e9ecee" stroke="#9aa4a9" stroke-width="0.6"/>
<circle cx="332.2" cy="432.9" r="3.9" fill="#fff" stroke="#9aa4a9" stroke-width="0.6"/>
<circle cx="332.2" cy="444.6" r="3.9" fill="#fff" stroke="#9aa4a9" stroke-width="0.6"/>
<circle cx="344.3" cy="432.9" r="3.9" fill="#fff" stroke="#9aa4a9" stroke-width="0.6"/>
<circle cx="344.3" cy="444.6" r="3.9" fill="#fff" stroke="#9aa4a9" stroke-width="0.6"/>
<rect x="223.5" y="463.4" width="30.3" height="29.1" fill="#ffffff" stroke="#9aa4a9" stroke-width="0.6"/>
<rect x="223.5" y="492.5" width="30.3" height="30.0" fill="#ffffff" stroke="#9aa4a9" stroke-width="0.6"/>
<rect x="223.5" y="522.5" width="30.3" height="28.8" fill="#ffffff" stroke="#9aa4a9" stroke-width="0.6"/>
<rect x="223.5" y="551.3" width="30.3" height="29.3" fill="#ffffff" stroke="#9aa4a9" stroke-width="0.6"/>
<path d="M253.8,463.4 L258.2,492.5 L253.8,522.5 M253.8,522.5 L258.2,551.3 L253.8,580.6" fill="none" stroke="#9aa4a9" stroke-width="0.6"/>
<rect x="378.5" y="505.6" width="20.3" height="18.8" fill="#fff" stroke="#9aa4a9" stroke-width="0.6"/>
<rect x="378.5" y="525.6" width="20.3" height="19.4" fill="#fff" stroke="#9aa4a9" stroke-width="0.6"/>
<rect x="288.7" y="482.5" width="22.5" height="59.4" fill="#fde2d1" filter="url(#sh)" />
<rect x="313.0" y="482.5" width="22.6" height="59.4" fill="#fde2d1" filter="url(#sh)" />
<rect x="349.5" y="683.5" width="26.5" height="215" fill="#fdf3ec" stroke="#a9a9a9" stroke-width="0.8"/>
<line x1="349.5" y1="693.0" x2="376.0" y2="693.0" stroke="#9c9c9c" stroke-width="0.7" stroke-linecap="butt" />
<line x1="349.5" y1="702.5" x2="376.0" y2="702.5" stroke="#9c9c9c" stroke-width="0.7" stroke-linecap="butt" />
<line x1="349.5" y1="712.0" x2="376.0" y2="712.0" stroke="#9c9c9c" stroke-width="0.7" stroke-linecap="butt" />
<line x1="349.5" y1="721.5" x2="376.0" y2="721.5" stroke="#9c9c9c" stroke-width="0.7" stroke-linecap="butt" />
<line x1="349.5" y1="731.0" x2="376.0" y2="731.0" stroke="#9c9c9c" stroke-width="0.7" stroke-linecap="butt" />
<line x1="349.5" y1="740.5" x2="376.0" y2="740.5" stroke="#9c9c9c" stroke-width="0.7" stroke-linecap="butt" />
<line x1="349.5" y1="750.0" x2="376.0" y2="750.0" stroke="#9c9c9c" stroke-width="0.7" stroke-linecap="butt" />
<line x1="349.5" y1="759.5" x2="376.0" y2="759.5" stroke="#9c9c9c" stroke-width="0.7" stroke-linecap="butt" />
<line x1="349.5" y1="769.0" x2="376.0" y2="769.0" stroke="#9c9c9c" stroke-width="0.7" stroke-linecap="butt" />
<line x1="349.5" y1="778.5" x2="376.0" y2="778.5" stroke="#9c9c9c" stroke-width="0.7" stroke-linecap="butt" />
<line x1="349.5" y1="788.0" x2="376.0" y2="788.0" stroke="#9c9c9c" stroke-width="0.7" stroke-linecap="butt" />
<line x1="349.5" y1="797.5" x2="376.0" y2="797.5" stroke="#9c9c9c" stroke-width="0.7" stroke-linecap="butt" />
<line x1="349.5" y1="807.0" x2="376.0" y2="807.0" stroke="#9c9c9c" stroke-width="0.7" stroke-linecap="butt" />
<line x1="349.5" y1="816.5" x2="376.0" y2="816.5" stroke="#9c9c9c" stroke-width="0.7" stroke-linecap="butt" />
<line x1="349.5" y1="826.0" x2="376.0" y2="826.0" stroke="#9c9c9c" stroke-width="0.7" stroke-linecap="butt" />
<line x1="349.5" y1="835.5" x2="376.0" y2="835.5" stroke="#9c9c9c" stroke-width="0.7" stroke-linecap="butt" />
<line x1="349.5" y1="845.0" x2="376.0" y2="845.0" stroke="#9c9c9c" stroke-width="0.7" stroke-linecap="butt" />
<line x1="349.5" y1="854.5" x2="376.0" y2="854.5" stroke="#9c9c9c" stroke-width="0.7" stroke-linecap="butt" />
<line x1="349.5" y1="864.0" x2="376.0" y2="864.0" stroke="#9c9c9c" stroke-width="0.7" stroke-linecap="butt" />
<line x1="349.5" y1="873.5" x2="376.0" y2="873.5" stroke="#9c9c9c" stroke-width="0.7" stroke-linecap="butt" />
<line x1="349.5" y1="883.0" x2="376.0" y2="883.0" stroke="#9c9c9c" stroke-width="0.7" stroke-linecap="butt" />
<line x1="349.5" y1="892.5" x2="376.0" y2="892.5" stroke="#9c9c9c" stroke-width="0.7" stroke-linecap="butt" />
<rect x="376" y="891" width="151" height="2.2" fill="#c4c4c4" filter="url(#blur1)"/>
<rect x="420.0" y="720.1" width="16.0" height="17.3" rx="4.5" fill="#fffdfa" stroke="#f3d9c6" stroke-width="0.6" filter="url(#sh2)" />
<rect x="420.0" y="742.4" width="16.0" height="17.3" rx="4.5" fill="#fffdfa" stroke="#f3d9c6" stroke-width="0.6" filter="url(#sh2)" />
<rect x="461.0" y="720.1" width="16.0" height="17.3" rx="4.5" fill="#fffdfa" stroke="#f3d9c6" stroke-width="0.6" filter="url(#sh2)" />
<rect x="461.0" y="742.4" width="16.0" height="17.3" rx="4.5" fill="#fffdfa" stroke="#f3d9c6" stroke-width="0.6" filter="url(#sh2)" />
<rect x="439.2" y="701.0" width="17.4" height="16.0" rx="4.5" fill="#fffdfa" stroke="#f3d9c6" stroke-width="0.6" filter="url(#sh2)" />
<rect x="439.2" y="763.0" width="17.4" height="16.0" rx="4.5" fill="#fffdfa" stroke="#f3d9c6" stroke-width="0.6" filter="url(#sh2)" />
<rect x="433.2" y="714.2" width="29.6" height="51.2" fill="#fde2d1" filter="url(#sh)" />
<rect x="71.8" y="785.9" width="16.0" height="17.3" rx="4.5" fill="#fffdfa" stroke="#f3d9c6" stroke-width="0.6" filter="url(#sh2)" />
<rect x="71.8" y="808.2" width="16.0" height="17.3" rx="4.5" fill="#fffdfa" stroke="#f3d9c6" stroke-width="0.6" filter="url(#sh2)" />
<rect x="112.8" y="785.9" width="16.0" height="17.3" rx="4.5" fill="#fffdfa" stroke="#f3d9c6" stroke-width="0.6" filter="url(#sh2)" />
<rect x="112.8" y="808.2" width="16.0" height="17.3" rx="4.5" fill="#fffdfa" stroke="#f3d9c6" stroke-width="0.6" filter="url(#sh2)" />
<rect x="91.0" y="766.8" width="17.4" height="16.0" rx="4.5" fill="#fffdfa" stroke="#f3d9c6" stroke-width="0.6" filter="url(#sh2)" />
<rect x="91.0" y="828.8" width="17.4" height="16.0" rx="4.5" fill="#fffdfa" stroke="#f3d9c6" stroke-width="0.6" filter="url(#sh2)" />
<rect x="85.0" y="780.0" width="29.6" height="51.2" fill="#fde2d1" filter="url(#sh)" />
<rect x="71.8" y="908.9" width="16.0" height="17.3" rx="4.5" fill="#fffdfa" stroke="#f3d9c6" stroke-width="0.6" filter="url(#sh2)" />
<rect x="71.8" y="931.2" width="16.0" height="17.3" rx="4.5" fill="#fffdfa" stroke="#f3d9c6" stroke-width="0.6" filter="url(#sh2)" />
<rect x="112.8" y="908.9" width="16.0" height="17.3" rx="4.5" fill="#fffdfa" stroke="#f3d9c6" stroke-width="0.6" filter="url(#sh2)" />
<rect x="112.8" y="931.2" width="16.0" height="17.3" rx="4.5" fill="#fffdfa" stroke="#f3d9c6" stroke-width="0.6" filter="url(#sh2)" />
<rect x="91.0" y="889.8" width="17.4" height="16.0" rx="4.5" fill="#fffdfa" stroke="#f3d9c6" stroke-width="0.6" filter="url(#sh2)" />
<rect x="91.0" y="951.8" width="17.4" height="16.0" rx="4.5" fill="#fffdfa" stroke="#f3d9c6" stroke-width="0.6" filter="url(#sh2)" />
<rect x="85.0" y="903.0" width="29.6" height="51.2" fill="#fde2d1" filter="url(#sh)" />
<rect x="71.8" y="1017.7" width="16.0" height="17.3" rx="4.5" fill="#fffdfa" stroke="#f3d9c6" stroke-width="0.6" filter="url(#sh2)" />
<rect x="71.8" y="1040.0" width="16.0" height="17.3" rx="4.5" fill="#fffdfa" stroke="#f3d9c6" stroke-width="0.6" filter="url(#sh2)" />
<rect x="112.8" y="1017.7" width="16.0" height="17.3" rx="4.5" fill="#fffdfa" stroke="#f3d9c6" stroke-width="0.6" filter="url(#sh2)" />
<rect x="112.8" y="1040.0" width="16.0" height="17.3" rx="4.5" fill="#fffdfa" stroke="#f3d9c6" stroke-width="0.6" filter="url(#sh2)" />
<rect x="91.0" y="998.6" width="17.4" height="16.0" rx="4.5" fill="#fffdfa" stroke="#f3d9c6" stroke-width="0.6" filter="url(#sh2)" />
<rect x="91.0" y="1060.6" width="17.4" height="16.0" rx="4.5" fill="#fffdfa" stroke="#f3d9c6" stroke-width="0.6" filter="url(#sh2)" />
<rect x="85.0" y="1011.8" width="29.6" height="51.2" fill="#fde2d1" filter="url(#sh)" />
<rect x="165.5" y="785.9" width="16.0" height="17.3" rx="4.5" fill="#fffdfa" stroke="#f3d9c6" stroke-width="0.6" filter="url(#sh2)" />
<rect x="165.5" y="808.2" width="16.0" height="17.3" rx="4.5" fill="#fffdfa" stroke="#f3d9c6" stroke-width="0.6" filter="url(#sh2)" />
<rect x="206.5" y="785.9" width="16.0" height="17.3" rx="4.5" fill="#fffdfa" stroke="#f3d9c6" stroke-width="0.6" filter="url(#sh2)" />
<rect x="206.5" y="808.2" width="16.0" height="17.3" rx="4.5" fill="#fffdfa" stroke="#f3d9c6" stroke-width="0.6" filter="url(#sh2)" />
<rect x="184.7" y="766.8" width="17.4" height="16.0" rx="4.5" fill="#fffdfa" stroke="#f3d9c6" stroke-width="0.6" filter="url(#sh2)" />
<rect x="184.7" y="828.8" width="17.4" height="16.0" rx="4.5" fill="#fffdfa" stroke="#f3d9c6" stroke-width="0.6" filter="url(#sh2)" />
<rect x="178.7" y="780.0" width="29.6" height="51.2" fill="#fde2d1" filter="url(#sh)" />
<rect x="165.5" y="908.9" width="16.0" height="17.3" rx="4.5" fill="#fffdfa" stroke="#f3d9c6" stroke-width="0.6" filter="url(#sh2)" />
<rect x="165.5" y="931.2" width="16.0" height="17.3" rx="4.5" fill="#fffdfa" stroke="#f3d9c6" stroke-width="0.6" filter="url(#sh2)" />
<rect x="206.5" y="908.9" width="16.0" height="17.3" rx="4.5" fill="#fffdfa" stroke="#f3d9c6" stroke-width="0.6" filter="url(#sh2)" />
<rect x="206.5" y="931.2" width="16.0" height="17.3" rx="4.5" fill="#fffdfa" stroke="#f3d9c6" stroke-width="0.6" filter="url(#sh2)" />
<rect x="184.7" y="889.8" width="17.4" height="16.0" rx="4.5" fill="#fffdfa" stroke="#f3d9c6" stroke-width="0.6" filter="url(#sh2)" />
<rect x="184.7" y="951.8" width="17.4" height="16.0" rx="4.5" fill="#fffdfa" stroke="#f3d9c6" stroke-width="0.6" filter="url(#sh2)" />
<rect x="178.7" y="903.0" width="29.6" height="51.2" fill="#fde2d1" filter="url(#sh)" />
<rect x="165.5" y="1017.7" width="16.0" height="17.3" rx="4.5" fill="#fffdfa" stroke="#f3d9c6" stroke-width="0.6" filter="url(#sh2)" />
<rect x="165.5" y="1040.0" width="16.0" height="17.3" rx="4.5" fill="#fffdfa" stroke="#f3d9c6" stroke-width="0.6" filter="url(#sh2)" />
<rect x="206.5" y="1017.7" width="16.0" height="17.3" rx="4.5" fill="#fffdfa" stroke="#f3d9c6" stroke-width="0.6" filter="url(#sh2)" />
<rect x="206.5" y="1040.0" width="16.0" height="17.3" rx="4.5" fill="#fffdfa" stroke="#f3d9c6" stroke-width="0.6" filter="url(#sh2)" />
<rect x="184.7" y="998.6" width="17.4" height="16.0" rx="4.5" fill="#fffdfa" stroke="#f3d9c6" stroke-width="0.6" filter="url(#sh2)" />
<rect x="184.7" y="1060.6" width="17.4" height="16.0" rx="4.5" fill="#fffdfa" stroke="#f3d9c6" stroke-width="0.6" filter="url(#sh2)" />
<rect x="178.7" y="1011.8" width="29.6" height="51.2" fill="#fde2d1" filter="url(#sh)" />
<rect x="259.0" y="785.9" width="16.0" height="17.3" rx="4.5" fill="#fffdfa" stroke="#f3d9c6" stroke-width="0.6" filter="url(#sh2)" />
<rect x="259.0" y="808.2" width="16.0" height="17.3" rx="4.5" fill="#fffdfa" stroke="#f3d9c6" stroke-width="0.6" filter="url(#sh2)" />
<rect x="300.0" y="785.9" width="16.0" height="17.3" rx="4.5" fill="#fffdfa" stroke="#f3d9c6" stroke-width="0.6" filter="url(#sh2)" />
<rect x="300.0" y="808.2" width="16.0" height="17.3" rx="4.5" fill="#fffdfa" stroke="#f3d9c6" stroke-width="0.6" filter="url(#sh2)" />
<rect x="278.2" y="766.8" width="17.4" height="16.0" rx="4.5" fill="#fffdfa" stroke="#f3d9c6" stroke-width="0.6" filter="url(#sh2)" />
<rect x="278.2" y="828.8" width="17.4" height="16.0" rx="4.5" fill="#fffdfa" stroke="#f3d9c6" stroke-width="0.6" filter="url(#sh2)" />
<rect x="272.2" y="780.0" width="29.6" height="51.2" fill="#fde2d1" filter="url(#sh)" />
<rect x="259.0" y="908.9" width="16.0" height="17.3" rx="4.5" fill="#fffdfa" stroke="#f3d9c6" stroke-width="0.6" filter="url(#sh2)" />
<rect x="259.0" y="931.2" width="16.0" height="17.3" rx="4.5" fill="#fffdfa" stroke="#f3d9c6" stroke-width="0.6" filter="url(#sh2)" />
<rect x="300.0" y="908.9" width="16.0" height="17.3" rx="4.5" fill="#fffdfa" stroke="#f3d9c6" stroke-width="0.6" filter="url(#sh2)" />
<rect x="300.0" y="931.2" width="16.0" height="17.3" rx="4.5" fill="#fffdfa" stroke="#f3d9c6" stroke-width="0.6" filter="url(#sh2)" />
<rect x="278.2" y="889.8" width="17.4" height="16.0" rx="4.5" fill="#fffdfa" stroke="#f3d9c6" stroke-width="0.6" filter="url(#sh2)" />
<rect x="278.2" y="951.8" width="17.4" height="16.0" rx="4.5" fill="#fffdfa" stroke="#f3d9c6" stroke-width="0.6" filter="url(#sh2)" />
<rect x="272.2" y="903.0" width="29.6" height="51.2" fill="#fde2d1" filter="url(#sh)" />
<rect x="259.0" y="1017.7" width="16.0" height="17.3" rx="4.5" fill="#fffdfa" stroke="#f3d9c6" stroke-width="0.6" filter="url(#sh2)" />
<rect x="259.0" y="1040.0" width="16.0" height="17.3" rx="4.5" fill="#fffdfa" stroke="#f3d9c6" stroke-width="0.6" filter="url(#sh2)" />
<rect x="300.0" y="1017.7" width="16.0" height="17.3" rx="4.5" fill="#fffdfa" stroke="#f3d9c6" stroke-width="0.6" filter="url(#sh2)" />
<rect x="300.0" y="1040.0" width="16.0" height="17.3" rx="4.5" fill="#fffdfa" stroke="#f3d9c6" stroke-width="0.6" filter="url(#sh2)" />
<rect x="278.2" y="998.6" width="17.4" height="16.0" rx="4.5" fill="#fffdfa" stroke="#f3d9c6" stroke-width="0.6" filter="url(#sh2)" />
<rect x="278.2" y="1060.6" width="17.4" height="16.0" rx="4.5" fill="#fffdfa" stroke="#f3d9c6" stroke-width="0.6" filter="url(#sh2)" />
<rect x="272.2" y="1011.8" width="29.6" height="51.2" fill="#fde2d1" filter="url(#sh)" />
<rect x="1445.1" y="595.0" width="38.7" height="80.0" fill="#fde2d1" stroke="#85553b" stroke-width="0.9" filter="url(#shb)" />
<rect x="1445.1" y="657.8" width="38.7" height="17.2" fill="#e8772e"/>
<rect x="1447.3" y="657.8" width="34.3" height="15.0" fill="#ffffff"/>
<rect x="1447.3" y="652.3" width="5.5" height="5.5" fill="none" stroke="#a9a4a0" stroke-width="0.6"/>
<polygon points="1447.3,657.8 1451.8,657.8 1447.3,653.3" fill="#e8772e"/>
<path d="M1474.8,639.4 C1451.8,638.4 1451.8,616.4 1468.8,614.4" fill="none" stroke="#e8772e" stroke-width="1.1" stroke-dasharray="4,2.2"/>
<polygon points="1474.8,612.4 1469.8,617.7 1467.6,611.6" fill="#e8772e"/>
<rect x="1445.1" y="684.0" width="38.7" height="80.0" fill="#fde2d1" stroke="#85553b" stroke-width="0.9" filter="url(#shb)" />
<rect x="1445.1" y="684.0" width="38.7" height="17.2" fill="#e8772e"/>
<rect x="1447.3" y="686.2" width="34.3" height="15.0" fill="#ffffff"/>
<rect x="1447.3" y="701.2" width="5.5" height="5.5" fill="none" stroke="#a9a4a0" stroke-width="0.6"/>
<polygon points="1447.3,701.2 1451.8,701.2 1447.3,705.7" fill="#e8772e"/>
<path d="M1474.8,719.6 C1451.8,720.6 1451.8,742.6 1468.8,744.6" fill="none" stroke="#e8772e" stroke-width="1.1" stroke-dasharray="4,2.2"/>
<polygon points="1474.8,746.6 1467.6,747.4 1469.8,741.3" fill="#e8772e"/>
<rect x="1403.1" y="518.2" width="79.4" height="37.6" fill="#fde2d1" stroke="#85553b" stroke-width="0.9" filter="url(#shb)" />
<rect x="1403.1" y="518.2" width="17.2" height="37.6" fill="#e8772e"/>
<rect x="1405.3" y="519.4" width="15.0" height="34.2" fill="#ffffff"/>
<rect x="1420.3" y="548.1" width="5.5" height="5.5" fill="none" stroke="#a9a4a0" stroke-width="0.6"/>
<polygon points="1420.3,553.6 1424.8,553.6 1420.3,549.1" fill="#e8772e"/>
<path d="M1464.4,526.2 C1463.4,550.2 1441.4,550.2 1439.4,532.2" fill="none" stroke="#e8772e" stroke-width="1.0" stroke-dasharray="4,2.2"/>
<polygon points="1437.4,527.2 1442.7,532.2 1436.6,534.4" fill="#e8772e"/>
<rect x="1403.1" y="796.3" width="79.4" height="37.6" fill="#fde2d1" stroke="#85553b" stroke-width="0.9" filter="url(#shb)" />
<rect x="1403.1" y="796.3" width="17.2" height="37.6" fill="#e8772e"/>
<rect x="1405.3" y="797.5" width="15.0" height="34.2" fill="#ffffff"/>
<rect x="1420.3" y="797.5" width="5.5" height="5.5" fill="none" stroke="#a9a4a0" stroke-width="0.6"/>
<polygon points="1420.3,797.5 1424.8,797.5 1420.3,802.0" fill="#e8772e"/>
<path d="M1464.4,825.9 C1463.4,801.9 1441.4,801.9 1439.4,819.9" fill="none" stroke="#e8772e" stroke-width="1.0" stroke-dasharray="4,2.2"/>
<polygon points="1437.4,824.9 1436.6,817.7 1442.7,819.9" fill="#e8772e"/>
<rect x="1365.0" y="595.0" width="38.5" height="80.0" fill="#fde2d1" stroke="#85553b" stroke-width="0.9" filter="url(#shb)" />
<rect x="1365.0" y="657.8" width="38.5" height="17.2" fill="#e8772e"/>
<rect x="1367.2" y="657.8" width="34.1" height="15.0" fill="#ffffff"/>
<rect x="1395.8" y="652.3" width="5.5" height="5.5" fill="none" stroke="#a9a4a0" stroke-width="0.6"/>
<polygon points="1401.3,657.8 1396.8,657.8 1401.3,653.3" fill="#e8772e"/>
<line x1="1384.2" y1="614.5" x2="1384.2" y2="639.7" stroke="#e8772e" stroke-width="1.4" stroke-linecap="butt" />
<polygon points="1384.2,610.5 1389.0,616.5 1379.5,616.5" fill="#e8772e"/>
<polygon points="1384.2,643.7 1379.5,637.7 1389.0,637.7" fill="#e8772e"/>
<rect x="1365.0" y="684.0" width="38.5" height="80.0" fill="#fde2d1" stroke="#85553b" stroke-width="0.9" filter="url(#shb)" />
<rect x="1365.0" y="684.0" width="38.5" height="17.2" fill="#e8772e"/>
<rect x="1367.2" y="686.2" width="34.1" height="15.0" fill="#ffffff"/>
<rect x="1395.8" y="701.2" width="5.5" height="5.5" fill="none" stroke="#a9a4a0" stroke-width="0.6"/>
<polygon points="1401.3,701.2 1396.8,701.2 1401.3,705.7" fill="#e8772e"/>
<line x1="1384.2" y1="719.3" x2="1384.2" y2="744.5" stroke="#e8772e" stroke-width="1.4" stroke-linecap="butt" />
<polygon points="1384.2,715.3 1389.0,721.3 1379.5,721.3" fill="#e8772e"/>
<polygon points="1384.2,748.5 1379.5,742.5 1389.0,742.5" fill="#e8772e"/>
<rect x="1326.5" y="595.0" width="38.5" height="80.0" fill="#fde2d1" stroke="#85553b" stroke-width="0.9" filter="url(#shb)" />
<rect x="1326.5" y="657.8" width="38.5" height="17.2" fill="#e8772e"/>
<rect x="1328.7" y="657.8" width="34.1" height="15.0" fill="#ffffff"/>
<rect x="1328.7" y="652.3" width="5.5" height="5.5" fill="none" stroke="#a9a4a0" stroke-width="0.6"/>
<polygon points="1328.7,657.8 1333.2,657.8 1328.7,653.3" fill="#e8772e"/>
<line x1="1345.8" y1="614.5" x2="1345.8" y2="639.7" stroke="#e8772e" stroke-width="1.4" stroke-linecap="butt" />
<polygon points="1345.8,610.5 1350.5,616.5 1341.0,616.5" fill="#e8772e"/>
<polygon points="1345.8,643.7 1341.0,637.7 1350.5,637.7" fill="#e8772e"/>
<rect x="1326.5" y="684.0" width="38.5" height="80.0" fill="#fde2d1" stroke="#85553b" stroke-width="0.9" filter="url(#shb)" />
<rect x="1326.5" y="684.0" width="38.5" height="17.2" fill="#e8772e"/>
<rect x="1328.7" y="686.2" width="34.1" height="15.0" fill="#ffffff"/>
<rect x="1328.7" y="701.2" width="5.5" height="5.5" fill="none" stroke="#a9a4a0" stroke-width="0.6"/>
<polygon points="1328.7,701.2 1333.2,701.2 1328.7,705.7" fill="#e8772e"/>
<line x1="1345.8" y1="719.3" x2="1345.8" y2="744.5" stroke="#e8772e" stroke-width="1.4" stroke-linecap="butt" />
<polygon points="1345.8,715.3 1350.5,721.3 1341.0,721.3" fill="#e8772e"/>
<polygon points="1345.8,748.5 1341.0,742.5 1350.5,742.5" fill="#e8772e"/>
<rect x="1320.7" y="518.2" width="80.8" height="37.6" fill="#fde2d1" stroke="#85553b" stroke-width="0.9" filter="url(#shb)" />
<rect x="1384.3" y="518.2" width="17.2" height="37.6" fill="#e8772e"/>
<rect x="1384.3" y="519.4" width="15.0" height="34.2" fill="#ffffff"/>
<rect x="1378.8" y="548.1" width="5.5" height="5.5" fill="none" stroke="#a9a4a0" stroke-width="0.6"/>
<polygon points="1384.3,553.6 1379.8,553.6 1384.3,549.1" fill="#e8772e"/>
<path d="M1365.5,526.2 C1364.5,550.2 1342.5,550.2 1340.5,532.2" fill="none" stroke="#e8772e" stroke-width="1.0" stroke-dasharray="4,2.2"/>
<polygon points="1338.5,527.2 1343.8,532.2 1337.7,534.4" fill="#e8772e"/>
<rect x="1320.7" y="796.3" width="80.8" height="37.6" fill="#fde2d1" stroke="#85553b" stroke-width="0.9" filter="url(#shb)" />
<rect x="1384.3" y="796.3" width="17.2" height="37.6" fill="#e8772e"/>
<rect x="1384.3" y="797.5" width="15.0" height="34.2" fill="#ffffff"/>
<rect x="1378.8" y="797.5" width="5.5" height="5.5" fill="none" stroke="#a9a4a0" stroke-width="0.6"/>
<polygon points="1384.3,797.5 1379.8,797.5 1384.3,802.0" fill="#e8772e"/>
<path d="M1365.5,825.9 C1364.5,801.9 1342.5,801.9 1340.5,819.9" fill="none" stroke="#e8772e" stroke-width="1.0" stroke-dasharray="4,2.2"/>
<polygon points="1338.5,824.9 1337.7,817.7 1343.8,819.9" fill="#e8772e"/>
<rect x="973.5" y="595.0" width="38.5" height="80.0" fill="#fde2d1" stroke="#85553b" stroke-width="0.9" filter="url(#shb)" />
<rect x="973.5" y="657.8" width="38.5" height="17.2" fill="#e8772e"/>
<rect x="975.7" y="657.8" width="34.1" height="15.0" fill="#ffffff"/>
<rect x="1004.3" y="652.3" width="5.5" height="5.5" fill="none" stroke="#a9a4a0" stroke-width="0.6"/>
<polygon points="1009.8,657.8 1005.3,657.8 1009.8,653.3" fill="#e8772e"/>
<line x1="992.8" y1="614.5" x2="992.8" y2="639.7" stroke="#e8772e" stroke-width="1.4" stroke-linecap="butt" />
<polygon points="992.8,610.5 997.5,616.5 988.0,616.5" fill="#e8772e"/>
<polygon points="992.8,643.7 988.0,637.7 997.5,637.7" fill="#e8772e"/>
<rect x="973.5" y="684.0" width="38.5" height="80.0" fill="#fde2d1" stroke="#85553b" stroke-width="0.9" filter="url(#shb)" />
<rect x="973.5" y="684.0" width="38.5" height="17.2" fill="#e8772e"/>
<rect x="975.7" y="686.2" width="34.1" height="15.0" fill="#ffffff"/>
<rect x="1004.3" y="701.2" width="5.5" height="5.5" fill="none" stroke="#a9a4a0" stroke-width="0.6"/>
<polygon points="1009.8,701.2 1005.3,701.2 1009.8,705.7" fill="#e8772e"/>
<line x1="992.8" y1="719.3" x2="992.8" y2="744.5" stroke="#e8772e" stroke-width="1.4" stroke-linecap="butt" />
<polygon points="992.8,715.3 997.5,721.3 988.0,721.3" fill="#e8772e"/>
<polygon points="992.8,748.5 988.0,742.5 997.5,742.5" fill="#e8772e"/>
<rect x="937.0" y="518.2" width="80.8" height="37.6" fill="#fde2d1" stroke="#85553b" stroke-width="0.9" filter="url(#shb)" />
<rect x="937.0" y="518.2" width="17.2" height="37.6" fill="#e8772e"/>
<rect x="939.2" y="519.4" width="15.0" height="34.2" fill="#ffffff"/>
<rect x="954.2" y="548.1" width="5.5" height="5.5" fill="none" stroke="#a9a4a0" stroke-width="0.6"/>
<polygon points="954.2,553.6 958.7,553.6 954.2,549.1" fill="#e8772e"/>
<path d="M973.0,526.2 C974.0,550.2 996.0,550.2 998.0,532.2" fill="none" stroke="#e8772e" stroke-width="1.0" stroke-dasharray="4,2.2"/>
<polygon points="1000.0,527.2 1000.8,534.4 994.7,532.2" fill="#e8772e"/>
<rect x="937.0" y="796.3" width="80.8" height="37.6" fill="#fde2d1" stroke="#85553b" stroke-width="0.9" filter="url(#shb)" />
<rect x="937.0" y="796.3" width="17.2" height="37.6" fill="#e8772e"/>
<rect x="939.2" y="797.5" width="15.0" height="34.2" fill="#ffffff"/>
<rect x="954.2" y="797.5" width="5.5" height="5.5" fill="none" stroke="#a9a4a0" stroke-width="0.6"/>
<polygon points="954.2,797.5 958.7,797.5 954.2,802.0" fill="#e8772e"/>
<path d="M973.0,825.9 C974.0,801.9 996.0,801.9 998.0,819.9" fill="none" stroke="#e8772e" stroke-width="1.0" stroke-dasharray="4,2.2"/>
<polygon points="1000.0,824.9 994.7,819.9 1000.8,817.7" fill="#e8772e"/>
<rect x="935.0" y="595.0" width="38.5" height="80.0" fill="#fde2d1" stroke="#85553b" stroke-width="0.9" filter="url(#shb)" />
<rect x="935.0" y="657.8" width="38.5" height="17.2" fill="#e8772e"/>
<rect x="937.2" y="657.8" width="34.1" height="15.0" fill="#ffffff"/>
<rect x="937.2" y="652.3" width="5.5" height="5.5" fill="none" stroke="#a9a4a0" stroke-width="0.6"/>
<polygon points="937.2,657.8 941.7,657.8 937.2,653.3" fill="#e8772e"/>
<line x1="954.2" y1="614.5" x2="954.2" y2="639.7" stroke="#e8772e" stroke-width="1.4" stroke-linecap="butt" />
<polygon points="954.2,610.5 959.0,616.5 949.5,616.5" fill="#e8772e"/>
<polygon points="954.2,643.7 949.5,637.7 959.0,637.7" fill="#e8772e"/>
<rect x="935.0" y="684.0" width="38.5" height="80.0" fill="#fde2d1" stroke="#85553b" stroke-width="0.9" filter="url(#shb)" />
<rect x="935.0" y="684.0" width="38.5" height="17.2" fill="#e8772e"/>
<rect x="937.2" y="686.2" width="34.1" height="15.0" fill="#ffffff"/>
<rect x="937.2" y="701.2" width="5.5" height="5.5" fill="none" stroke="#a9a4a0" stroke-width="0.6"/>
<polygon points="937.2,701.2 941.7,701.2 937.2,705.7" fill="#e8772e"/>
<line x1="954.2" y1="719.3" x2="954.2" y2="744.5" stroke="#e8772e" stroke-width="1.4" stroke-linecap="butt" />
<polygon points="954.2,715.3 959.0,721.3 949.5,721.3" fill="#e8772e"/>
<polygon points="954.2,748.5 949.5,742.5 959.0,742.5" fill="#e8772e"/>
<rect x="856.0" y="518.2" width="79.4" height="37.6" fill="#fde2d1" stroke="#85553b" stroke-width="0.9" filter="url(#shb)" />
<rect x="918.2" y="518.2" width="17.2" height="37.6" fill="#e8772e"/>
<rect x="918.2" y="519.4" width="15.0" height="34.2" fill="#ffffff"/>
<rect x="912.7" y="548.1" width="5.5" height="5.5" fill="none" stroke="#a9a4a0" stroke-width="0.6"/>
<polygon points="918.2,553.6 913.7,553.6 918.2,549.1" fill="#e8772e"/>
<path d="M874.1,526.2 C875.1,550.2 897.1,550.2 899.1,532.2" fill="none" stroke="#e8772e" stroke-width="1.0" stroke-dasharray="4,2.2"/>
<polygon points="901.1,527.2 901.9,534.4 895.8,532.2" fill="#e8772e"/>
<rect x="856.0" y="796.3" width="79.4" height="37.6" fill="#fde2d1" stroke="#85553b" stroke-width="0.9" filter="url(#shb)" />
<rect x="918.2" y="796.3" width="17.2" height="37.6" fill="#e8772e"/>
<rect x="918.2" y="797.5" width="15.0" height="34.2" fill="#ffffff"/>
<rect x="912.7" y="797.5" width="5.5" height="5.5" fill="none" stroke="#a9a4a0" stroke-width="0.6"/>
<polygon points="918.2,797.5 913.7,797.5 918.2,802.0" fill="#e8772e"/>
<path d="M874.1,825.9 C875.1,801.9 897.1,801.9 899.1,819.9" fill="none" stroke="#e8772e" stroke-width="1.0" stroke-dasharray="4,2.2"/>
<polygon points="901.1,824.9 895.8,819.9 901.9,817.7" fill="#e8772e"/>
<rect x="854.7" y="595.0" width="38.7" height="80.0" fill="#fde2d1" stroke="#85553b" stroke-width="0.9" filter="url(#shb)" />
<rect x="854.7" y="657.8" width="38.7" height="17.2" fill="#e8772e"/>
<rect x="856.9" y="657.8" width="34.3" height="15.0" fill="#ffffff"/>
<rect x="885.7" y="652.3" width="5.5" height="5.5" fill="none" stroke="#a9a4a0" stroke-width="0.6"/>
<polygon points="891.2,657.8 886.7,657.8 891.2,653.3" fill="#e8772e"/>
<path d="M863.7,639.4 C886.7,638.4 886.7,616.4 869.7,614.4" fill="none" stroke="#e8772e" stroke-width="1.1" stroke-dasharray="4,2.2"/>
<polygon points="863.7,612.4 870.9,611.6 868.7,617.7" fill="#e8772e"/>
<rect x="854.7" y="684.0" width="38.7" height="80.0" fill="#fde2d1" stroke="#85553b" stroke-width="0.9" filter="url(#shb)" />
<rect x="854.7" y="684.0" width="38.7" height="17.2" fill="#e8772e"/>
<rect x="856.9" y="686.2" width="34.3" height="15.0" fill="#ffffff"/>
<rect x="885.7" y="701.2" width="5.5" height="5.5" fill="none" stroke="#a9a4a0" stroke-width="0.6"/>
<polygon points="891.2,701.2 886.7,701.2 891.2,705.7" fill="#e8772e"/>
<path d="M863.7,719.6 C886.7,720.6 886.7,742.6 869.7,744.6" fill="none" stroke="#e8772e" stroke-width="1.1" stroke-dasharray="4,2.2"/>
<polygon points="863.7,746.6 868.7,741.3 870.9,747.4" fill="#e8772e"/>
<rect x="1066.6" y="527.2" width="44" height="38" rx="12" fill="#ecebf1" stroke="#e8844a" stroke-width="1.45"/>
<ellipse cx="1088.6" cy="546.2" rx="12" ry="13" fill="#e2d8da" filter="url(#blur4)"/>
<text x="1088.6" y="554.7" font-family="Liberation Sans" font-weight="bold" font-size="24" fill="#e8772e" text-anchor="middle">1</text>
<rect x="1066.6" y="787.5" width="44" height="38" rx="12" fill="#ecebf1" stroke="#e8844a" stroke-width="1.45"/>
<ellipse cx="1088.6" cy="806.5" rx="12" ry="13" fill="#e2d8da" filter="url(#blur4)"/>
<text x="1088.6" y="815.0" font-family="Liberation Sans" font-weight="bold" font-size="24" fill="#e8772e" text-anchor="middle">3</text>
<rect x="1231.5" y="527.2" width="44" height="38" rx="12" fill="#ecebf1" stroke="#e8844a" stroke-width="1.45"/>
<ellipse cx="1253.5" cy="546.2" rx="12" ry="13" fill="#e2d8da" filter="url(#blur4)"/>
<text x="1253.5" y="554.7" font-family="Liberation Sans" font-weight="bold" font-size="24" fill="#e8772e" text-anchor="middle">2</text>
<rect x="1231.5" y="787.5" width="44" height="38" rx="12" fill="#ecebf1" stroke="#e8844a" stroke-width="1.45"/>
<ellipse cx="1253.5" cy="806.5" rx="12" ry="13" fill="#e2d8da" filter="url(#blur4)"/>
<text x="1253.5" y="815.0" font-family="Liberation Sans" font-weight="bold" font-size="24" fill="#e8772e" text-anchor="middle">4</text>
<circle cx="1061.5" cy="627.0" r="2.2" fill="none" stroke="#446d80" stroke-width="1.45"/>
<path d="M1063.0,637.9 A5.7,5.7 0 1 0 1066.8,648.4" fill="none" stroke="#e8772e" stroke-width="3.4"/>
<circle cx="1064.0" cy="643.5" r="7.3" fill="none" stroke="#446d80" stroke-width="1.45"/>
<polyline points="1062.0,631.0 1063.0,642.0 1071.0,643.0 1077.5,649.0" fill="none" stroke="#446d80" stroke-width="1.45"/>
<path d="M1053.4,647.4 A11.3,11.3 0 0 0 1058.3,653.3" fill="none" stroke="#446d80" stroke-width="1.45"/>
<line x1="1075.5" y1="652.0" x2="1079.5" y2="652.0" stroke="#446d80" stroke-width="1.45" stroke-linecap="butt" />
<line x1="1073.5" y1="629.0" x2="1075.5" y2="626.0" stroke="#446d80" stroke-width="1.305" stroke-linecap="butt" />
<line x1="1076.0" y1="629.0" x2="1078.0" y2="626.0" stroke="#446d80" stroke-width="1.305" stroke-linecap="butt" />
<polyline points="1093.0,638.5 1093.0,626.0 1100.5,626.0" fill="none" stroke="#e8772e" stroke-width="2.6"/>
<polyline points="1091.0,652.0 1091.0,624.5 1105.5,624.5 1105.5,627.5" fill="none" stroke="#446d80" stroke-width="1.6"/>
<line x1="1102.5" y1="628.0" x2="1108.5" y2="628.0" stroke="#446d80" stroke-width="1.92" stroke-linecap="butt" />
<line x1="1088.0" y1="652.0" x2="1094.5" y2="652.0" stroke="#446d80" stroke-width="1.6" stroke-linecap="butt" />
<line x1="1102.5" y1="630.5" x2="1102.5" y2="634.5" stroke="#c9d0d6" stroke-width="1.0" stroke-linecap="butt" />
<line x1="1105.0" y1="630.5" x2="1105.0" y2="637.5" stroke="#c9d0d6" stroke-width="1.0" stroke-linecap="butt" />
<line x1="1107.5" y1="630.5" x2="1107.5" y2="633.5" stroke="#c9d0d6" stroke-width="1.0" stroke-linecap="butt" />
<line x1="1105.0" y1="639.5" x2="1105.0" y2="641.5" stroke="#c9d0d6" stroke-width="1.0" stroke-linecap="butt" />
<circle cx="1094.0" cy="640.5" r="1.6" fill="none" stroke="#c9d0d6" stroke-width="0.8"/>
<circle cx="1244.5" cy="627.0" r="2.2" fill="none" stroke="#446d80" stroke-width="1.45"/>
<path d="M1246.0,637.9 A5.7,5.7 0 1 0 1249.8,648.4" fill="none" stroke="#e8772e" stroke-width="3.4"/>
<circle cx="1247.0" cy="643.5" r="7.3" fill="none" stroke="#446d80" stroke-width="1.45"/>
<polyline points="1245.0,631.0 1246.0,642.0 1254.0,643.0 1260.5,649.0" fill="none" stroke="#446d80" stroke-width="1.45"/>
<path d="M1236.4,647.4 A11.3,11.3 0 0 0 1241.3,653.3" fill="none" stroke="#446d80" stroke-width="1.45"/>
<line x1="1258.5" y1="652.0" x2="1262.5" y2="652.0" stroke="#446d80" stroke-width="1.45" stroke-linecap="butt" />
<line x1="1256.5" y1="629.0" x2="1258.5" y2="626.0" stroke="#446d80" stroke-width="1.305" stroke-linecap="butt" />
<line x1="1259.0" y1="629.0" x2="1261.0" y2="626.0" stroke="#446d80" stroke-width="1.305" stroke-linecap="butt" />
<polyline points="1276.0,638.5 1276.0,626.0 1283.5,626.0" fill="none" stroke="#e8772e" stroke-width="2.6"/>
<polyline points="1274.0,652.0 1274.0,624.5 1288.5,624.5 1288.5,627.5" fill="none" stroke="#446d80" stroke-width="1.6"/>
<line x1="1285.5" y1="628.0" x2="1291.5" y2="628.0" stroke="#446d80" stroke-width="1.92" stroke-linecap="butt" />
<line x1="1271.0" y1="652.0" x2="1277.5" y2="652.0" stroke="#446d80" stroke-width="1.6" stroke-linecap="butt" />
<line x1="1285.5" y1="630.5" x2="1285.5" y2="634.5" stroke="#c9d0d6" stroke-width="1.0" stroke-linecap="butt" />
<line x1="1288.0" y1="630.5" x2="1288.0" y2="637.5" stroke="#c9d0d6" stroke-width="1.0" stroke-linecap="butt" />
<line x1="1290.5" y1="630.5" x2="1290.5" y2="633.5" stroke="#c9d0d6" stroke-width="1.0" stroke-linecap="butt" />
<line x1="1288.0" y1="639.5" x2="1288.0" y2="641.5" stroke="#c9d0d6" stroke-width="1.0" stroke-linecap="butt" />
<circle cx="1277.0" cy="640.5" r="1.6" fill="none" stroke="#c9d0d6" stroke-width="0.8"/>
<circle cx="1061.5" cy="723.0" r="2.2" fill="none" stroke="#446d80" stroke-width="1.45"/>
<path d="M1063.0,733.9 A5.7,5.7 0 1 0 1066.8,744.4" fill="none" stroke="#e8772e" stroke-width="3.4"/>
<circle cx="1064.0" cy="739.5" r="7.3" fill="none" stroke="#446d80" stroke-width="1.45"/>
<polyline points="1062.0,727.0 1063.0,738.0 1071.0,739.0 1077.5,745.0" fill="none" stroke="#446d80" stroke-width="1.45"/>
<path d="M1053.4,743.4 A11.3,11.3 0 0 0 1058.3,749.3" fill="none" stroke="#446d80" stroke-width="1.45"/>
<line x1="1075.5" y1="748.0" x2="1079.5" y2="748.0" stroke="#446d80" stroke-width="1.45" stroke-linecap="butt" />
<line x1="1073.5" y1="725.0" x2="1075.5" y2="722.0" stroke="#446d80" stroke-width="1.305" stroke-linecap="butt" />
<line x1="1076.0" y1="725.0" x2="1078.0" y2="722.0" stroke="#446d80" stroke-width="1.305" stroke-linecap="butt" />
<polyline points="1093.0,734.5 1093.0,722.0 1100.5,722.0" fill="none" stroke="#e8772e" stroke-width="2.6"/>
<polyline points="1091.0,748.0 1091.0,720.5 1105.5,720.5 1105.5,723.5" fill="none" stroke="#446d80" stroke-width="1.6"/>
<line x1="1102.5" y1="724.0" x2="1108.5" y2="724.0" stroke="#446d80" stroke-width="1.92" stroke-linecap="butt" />
<line x1="1088.0" y1="748.0" x2="1094.5" y2="748.0" stroke="#446d80" stroke-width="1.6" stroke-linecap="butt" />
<line x1="1102.5" y1="726.5" x2="1102.5" y2="730.5" stroke="#c9d0d6" stroke-width="1.0" stroke-linecap="butt" />
<line x1="1105.0" y1="726.5" x2="1105.0" y2="733.5" stroke="#c9d0d6" stroke-width="1.0" stroke-linecap="butt" />
<line x1="1107.5" y1="726.5" x2="1107.5" y2="729.5" stroke="#c9d0d6" stroke-width="1.0" stroke-linecap="butt" />
<line x1="1105.0" y1="735.5" x2="1105.0" y2="737.5" stroke="#c9d0d6" stroke-width="1.0" stroke-linecap="butt" />
<circle cx="1094.0" cy="736.5" r="1.6" fill="none" stroke="#c9d0d6" stroke-width="0.8"/>
<circle cx="1244.5" cy="723.0" r="2.2" fill="none" stroke="#446d80" stroke-width="1.45"/>
<path d="M1246.0,733.9 A5.7,5.7 0 1 0 1249.8,744.4" fill="none" stroke="#e8772e" stroke-width="3.4"/>
<circle cx="1247.0" cy="739.5" r="7.3" fill="none" stroke="#446d80" stroke-width="1.45"/>
<polyline points="1245.0,727.0 1246.0,738.0 1254.0,739.0 1260.5,745.0" fill="none" stroke="#446d80" stroke-width="1.45"/>
<path d="M1236.4,743.4 A11.3,11.3 0 0 0 1241.3,749.3" fill="none" stroke="#446d80" stroke-width="1.45"/>
<line x1="1258.5" y1="748.0" x2="1262.5" y2="748.0" stroke="#446d80" stroke-width="1.45" stroke-linecap="butt" />
<line x1="1256.5" y1="725.0" x2="1258.5" y2="722.0" stroke="#446d80" stroke-width="1.305" stroke-linecap="butt" />
<line x1="1259.0" y1="725.0" x2="1261.0" y2="722.0" stroke="#446d80" stroke-width="1.305" stroke-linecap="butt" />
<polyline points="1276.0,734.5 1276.0,722.0 1283.5,722.0" fill="none" stroke="#e8772e" stroke-width="2.6"/>
<polyline points="1274.0,748.0 1274.0,720.5 1288.5,720.5 1288.5,723.5" fill="none" stroke="#446d80" stroke-width="1.6"/>
<line x1="1285.5" y1="724.0" x2="1291.5" y2="724.0" stroke="#446d80" stroke-width="1.92" stroke-linecap="butt" />
<line x1="1271.0" y1="748.0" x2="1277.5" y2="748.0" stroke="#446d80" stroke-width="1.6" stroke-linecap="butt" />
<line x1="1285.5" y1="726.5" x2="1285.5" y2="730.5" stroke="#c9d0d6" stroke-width="1.0" stroke-linecap="butt" />
<line x1="1288.0" y1="726.5" x2="1288.0" y2="733.5" stroke="#c9d0d6" stroke-width="1.0" stroke-linecap="butt" />
<line x1="1290.5" y1="726.5" x2="1290.5" y2="729.5" stroke="#c9d0d6" stroke-width="1.0" stroke-linecap="butt" />
<line x1="1288.0" y1="735.5" x2="1288.0" y2="737.5" stroke="#c9d0d6" stroke-width="1.0" stroke-linecap="butt" />
<circle cx="1277.0" cy="736.5" r="1.6" fill="none" stroke="#c9d0d6" stroke-width="0.8"/>
<rect x="1125.4" y="533.0" width="3.6" height="37.0" fill="#fff8f1" stroke="#e9a77a" stroke-width="0.6"/>
<polyline points="1127.2,533.0 1115.2,535.0 1127.2,570.0" fill="none" stroke="#e39a6a" stroke-width="0.65"/>
<rect x="1125.4" y="788.0" width="3.6" height="37.6" fill="#fff8f1" stroke="#e9a77a" stroke-width="0.6"/>
<polyline points="1127.2,788.0 1115.2,823.6 1127.2,825.6" fill="none" stroke="#e39a6a" stroke-width="0.65"/>
<rect x="1209.4" y="533.0" width="3.6" height="37.0" fill="#fff8f1" stroke="#e9a77a" stroke-width="0.6"/>
<polyline points="1211.2,533.0 1223.2,535.0 1211.2,570.0" fill="none" stroke="#e39a6a" stroke-width="0.65"/>
<rect x="1209.4" y="788.0" width="3.6" height="37.6" fill="#fff8f1" stroke="#e9a77a" stroke-width="0.6"/>
<polyline points="1211.2,788.0 1223.2,823.6 1211.2,825.6" fill="none" stroke="#e39a6a" stroke-width="0.65"/>
<rect x="1036.5" y="579.5" width="35.5" height="3.6" fill="#fff8f1" stroke="#e9a77a" stroke-width="0.6"/>
<polyline points="1036.5,581.3 1039.0,569.8 1072.0,581.3" fill="none" stroke="#e39a6a" stroke-width="0.65"/>
<rect x="1036.5" y="778.4" width="35.5" height="3.6" fill="#fff8f1" stroke="#e9a77a" stroke-width="0.6"/>
<polyline points="1036.5,780.2 1039.0,791.7 1072.0,780.2" fill="none" stroke="#e39a6a" stroke-width="0.65"/>
<rect x="1266.5" y="579.5" width="35.5" height="3.6" fill="#fff8f1" stroke="#e9a77a" stroke-width="0.6"/>
<polyline points="1266.5,581.3 1299.5,569.8 1302.0,581.3" fill="none" stroke="#e39a6a" stroke-width="0.65"/>
<rect x="1266.5" y="778.4" width="35.5" height="3.6" fill="#fff8f1" stroke="#e9a77a" stroke-width="0.6"/>
<polyline points="1266.5,780.2 1299.5,791.7 1302.0,780.2" fill="none" stroke="#e39a6a" stroke-width="0.65"/>
<rect x="1445.1" y="913.2" width="38.7" height="80.0" fill="#fde2d1" stroke="#85553b" stroke-width="0.9" filter="url(#shb)" />
<rect x="1445.1" y="976.0" width="38.7" height="17.2" fill="#e8772e"/>
<rect x="1447.3" y="976.0" width="34.3" height="15.0" fill="#ffffff"/>
<rect x="1447.3" y="970.5" width="5.5" height="5.5" fill="none" stroke="#a9a4a0" stroke-width="0.6"/>
<polygon points="1447.3,976.0 1451.8,976.0 1447.3,971.5" fill="#e8772e"/>
<path d="M1474.8,957.6 C1451.8,956.6 1451.8,934.6 1468.8,932.6" fill="none" stroke="#e8772e" stroke-width="1.1" stroke-dasharray="4,2.2"/>
<polygon points="1474.8,930.6 1469.8,935.9 1467.6,929.8" fill="#e8772e"/>
<rect x="1445.1" y="1002.2" width="38.7" height="80.0" fill="#fde2d1" stroke="#85553b" stroke-width="0.9" filter="url(#shb)" />
<rect x="1445.1" y="1002.2" width="38.7" height="17.2" fill="#e8772e"/>
<rect x="1447.3" y="1004.4" width="34.3" height="15.0" fill="#ffffff"/>
<rect x="1447.3" y="1019.4" width="5.5" height="5.5" fill="none" stroke="#a9a4a0" stroke-width="0.6"/>
<polygon points="1447.3,1019.4 1451.8,1019.4 1447.3,1023.9" fill="#e8772e"/>
<path d="M1474.8,1037.8 C1451.8,1038.8 1451.8,1060.8 1468.8,1062.8" fill="none" stroke="#e8772e" stroke-width="1.1" stroke-dasharray="4,2.2"/>
<polygon points="1474.8,1064.8 1467.6,1065.6 1469.8,1059.5" fill="#e8772e"/>
<rect x="1403.1" y="843.0" width="79.4" height="37.6" fill="#fde2d1" stroke="#85553b" stroke-width="0.9" filter="url(#shb)" />
<rect x="1403.1" y="843.0" width="17.2" height="37.6" fill="#e8772e"/>
<rect x="1405.3" y="844.2" width="15.0" height="34.2" fill="#ffffff"/>
<rect x="1420.3" y="872.9" width="5.5" height="5.5" fill="none" stroke="#a9a4a0" stroke-width="0.6"/>
<polygon points="1420.3,878.4 1424.8,878.4 1420.3,873.9" fill="#e8772e"/>
<path d="M1464.4,851.0 C1463.4,875.0 1441.4,875.0 1439.4,857.0" fill="none" stroke="#e8772e" stroke-width="1.0" stroke-dasharray="4,2.2"/>
<polygon points="1437.4,852.0 1442.7,857.0 1436.6,859.2" fill="#e8772e"/>
<rect x="1403.1" y="1113.9" width="79.4" height="37.6" fill="#fde2d1" stroke="#85553b" stroke-width="0.9" filter="url(#shb)" />
<rect x="1403.1" y="1113.9" width="17.2" height="37.6" fill="#e8772e"/>
<rect x="1405.3" y="1115.1" width="15.0" height="34.2" fill="#ffffff"/>
<rect x="1420.3" y="1115.1" width="5.5" height="5.5" fill="none" stroke="#a9a4a0" stroke-width="0.6"/>
<polygon points="1420.3,1115.1 1424.8,1115.1 1420.3,1119.6" fill="#e8772e"/>
<path d="M1464.4,1143.5 C1463.4,1119.5 1441.4,1119.5 1439.4,1137.5" fill="none" stroke="#e8772e" stroke-width="1.0" stroke-dasharray="4,2.2"/>
<polygon points="1437.4,1142.5 1436.6,1135.3 1442.7,1137.5" fill="#e8772e"/>
<rect x="1365.0" y="913.2" width="38.5" height="80.0" fill="#fde2d1" stroke="#85553b" stroke-width="0.9" filter="url(#shb)" />
<rect x="1365.0" y="976.0" width="38.5" height="17.2" fill="#e8772e"/>
<rect x="1367.2" y="976.0" width="34.1" height="15.0" fill="#ffffff"/>
<rect x="1395.8" y="970.5" width="5.5" height="5.5" fill="none" stroke="#a9a4a0" stroke-width="0.6"/>
<polygon points="1401.3,976.0 1396.8,976.0 1401.3,971.5" fill="#e8772e"/>
<line x1="1384.2" y1="932.7" x2="1384.2" y2="957.9" stroke="#e8772e" stroke-width="1.4" stroke-linecap="butt" />
<polygon points="1384.2,928.7 1389.0,934.7 1379.5,934.7" fill="#e8772e"/>
<polygon points="1384.2,961.9 1379.5,955.9 1389.0,955.9" fill="#e8772e"/>
<rect x="1365.0" y="1002.2" width="38.5" height="80.0" fill="#fde2d1" stroke="#85553b" stroke-width="0.9" filter="url(#shb)" />
<rect x="1365.0" y="1002.2" width="38.5" height="17.2" fill="#e8772e"/>
<rect x="1367.2" y="1004.4" width="34.1" height="15.0" fill="#ffffff"/>
<rect x="1395.8" y="1019.4" width="5.5" height="5.5" fill="none" stroke="#a9a4a0" stroke-width="0.6"/>
<polygon points="1401.3,1019.4 1396.8,1019.4 1401.3,1023.9" fill="#e8772e"/>
<line x1="1384.2" y1="1037.5" x2="1384.2" y2="1062.7" stroke="#e8772e" stroke-width="1.4" stroke-linecap="butt" />
<polygon points="1384.2,1033.5 1389.0,1039.5 1379.5,1039.5" fill="#e8772e"/>
<polygon points="1384.2,1066.7 1379.5,1060.7 1389.0,1060.7" fill="#e8772e"/>
<rect x="1326.5" y="913.2" width="38.5" height="80.0" fill="#fde2d1" stroke="#85553b" stroke-width="0.9" filter="url(#shb)" />
<rect x="1326.5" y="976.0" width="38.5" height="17.2" fill="#e8772e"/>
<rect x="1328.7" y="976.0" width="34.1" height="15.0" fill="#ffffff"/>
<rect x="1328.7" y="970.5" width="5.5" height="5.5" fill="none" stroke="#a9a4a0" stroke-width="0.6"/>
<polygon points="1328.7,976.0 1333.2,976.0 1328.7,971.5" fill="#e8772e"/>
<line x1="1345.8" y1="932.7" x2="1345.8" y2="957.9" stroke="#e8772e" stroke-width="1.4" stroke-linecap="butt" />
<polygon points="1345.8,928.7 1350.5,934.7 1341.0,934.7" fill="#e8772e"/>
<polygon points="1345.8,961.9 1341.0,955.9 1350.5,955.9" fill="#e8772e"/>
<rect x="1326.5" y="1002.2" width="38.5" height="80.0" fill="#fde2d1" stroke="#85553b" stroke-width="0.9" filter="url(#shb)" />
<rect x="1326.5" y="1002.2" width="38.5" height="17.2" fill="#e8772e"/>
<rect x="1328.7" y="1004.4" width="34.1" height="15.0" fill="#ffffff"/>
<rect x="1328.7" y="1019.4" width="5.5" height="5.5" fill="none" stroke="#a9a4a0" stroke-width="0.6"/>
<polygon points="1328.7,1019.4 1333.2,1019.4 1328.7,1023.9" fill="#e8772e"/>
<line x1="1345.8" y1="1037.5" x2="1345.8" y2="1062.7" stroke="#e8772e" stroke-width="1.4" stroke-linecap="butt" />
<polygon points="1345.8,1033.5 1350.5,1039.5 1341.0,1039.5" fill="#e8772e"/>
<polygon points="1345.8,1066.7 1341.0,1060.7 1350.5,1060.7" fill="#e8772e"/>
<rect x="1320.7" y="843.0" width="80.8" height="37.6" fill="#fde2d1" stroke="#85553b" stroke-width="0.9" filter="url(#shb)" />
<rect x="1384.3" y="843.0" width="17.2" height="37.6" fill="#e8772e"/>
<rect x="1384.3" y="844.2" width="15.0" height="34.2" fill="#ffffff"/>
<rect x="1378.8" y="872.9" width="5.5" height="5.5" fill="none" stroke="#a9a4a0" stroke-width="0.6"/>
<polygon points="1384.3,878.4 1379.8,878.4 1384.3,873.9" fill="#e8772e"/>
<path d="M1365.5,851.0 C1364.5,875.0 1342.5,875.0 1340.5,857.0" fill="none" stroke="#e8772e" stroke-width="1.0" stroke-dasharray="4,2.2"/>
<polygon points="1338.5,852.0 1343.8,857.0 1337.7,859.2" fill="#e8772e"/>
<rect x="1320.7" y="1113.9" width="80.8" height="37.6" fill="#fde2d1" stroke="#85553b" stroke-width="0.9" filter="url(#shb)" />
<rect x="1384.3" y="1113.9" width="17.2" height="37.6" fill="#e8772e"/>
<rect x="1384.3" y="1115.1" width="15.0" height="34.2" fill="#ffffff"/>
<rect x="1378.8" y="1115.1" width="5.5" height="5.5" fill="none" stroke="#a9a4a0" stroke-width="0.6"/>
<polygon points="1384.3,1115.1 1379.8,1115.1 1384.3,1119.6" fill="#e8772e"/>
<path d="M1365.5,1143.5 C1364.5,1119.5 1342.5,1119.5 1340.5,1137.5" fill="none" stroke="#e8772e" stroke-width="1.0" stroke-dasharray="4,2.2"/>
<polygon points="1338.5,1142.5 1337.7,1135.3 1343.8,1137.5" fill="#e8772e"/>
<rect x="973.5" y="913.2" width="38.5" height="80.0" fill="#fde2d1" stroke="#85553b" stroke-width="0.9" filter="url(#shb)" />
<rect x="973.5" y="976.0" width="38.5" height="17.2" fill="#e8772e"/>
<rect x="975.7" y="976.0" width="34.1" height="15.0" fill="#ffffff"/>
<rect x="1004.3" y="970.5" width="5.5" height="5.5" fill="none" stroke="#a9a4a0" stroke-width="0.6"/>
<polygon points="1009.8,976.0 1005.3,976.0 1009.8,971.5" fill="#e8772e"/>
<line x1="992.8" y1="932.7" x2="992.8" y2="957.9" stroke="#e8772e" stroke-width="1.4" stroke-linecap="butt" />
<polygon points="992.8,928.7 997.5,934.7 988.0,934.7" fill="#e8772e"/>
<polygon points="992.8,961.9 988.0,955.9 997.5,955.9" fill="#e8772e"/>
<rect x="973.5" y="1002.2" width="38.5" height="80.0" fill="#fde2d1" stroke="#85553b" stroke-width="0.9" filter="url(#shb)" />
<rect x="973.5" y="1002.2" width="38.5" height="17.2" fill="#e8772e"/>
<rect x="975.7" y="1004.4" width="34.1" height="15.0" fill="#ffffff"/>
<rect x="1004.3" y="1019.4" width="5.5" height="5.5" fill="none" stroke="#a9a4a0" stroke-width="0.6"/>
<polygon points="1009.8,1019.4 1005.3,1019.4 1009.8,1023.9" fill="#e8772e"/>
<line x1="992.8" y1="1037.5" x2="992.8" y2="1062.7" stroke="#e8772e" stroke-width="1.4" stroke-linecap="butt" />
<polygon points="992.8,1033.5 997.5,1039.5 988.0,1039.5" fill="#e8772e"/>
<polygon points="992.8,1066.7 988.0,1060.7 997.5,1060.7" fill="#e8772e"/>
<rect x="937.0" y="843.0" width="80.8" height="37.6" fill="#fde2d1" stroke="#85553b" stroke-width="0.9" filter="url(#shb)" />
<rect x="937.0" y="843.0" width="17.2" height="37.6" fill="#e8772e"/>
<rect x="939.2" y="844.2" width="15.0" height="34.2" fill="#ffffff"/>
<rect x="954.2" y="872.9" width="5.5" height="5.5" fill="none" stroke="#a9a4a0" stroke-width="0.6"/>
<polygon points="954.2,878.4 958.7,878.4 954.2,873.9" fill="#e8772e"/>
<path d="M973.0,851.0 C974.0,875.0 996.0,875.0 998.0,857.0" fill="none" stroke="#e8772e" stroke-width="1.0" stroke-dasharray="4,2.2"/>
<polygon points="1000.0,852.0 1000.8,859.2 994.7,857.0" fill="#e8772e"/>
<rect x="937.0" y="1113.9" width="80.8" height="37.6" fill="#fde2d1" stroke="#85553b" stroke-width="0.9" filter="url(#shb)" />
<rect x="937.0" y="1113.9" width="17.2" height="37.6" fill="#e8772e"/>
<rect x="939.2" y="1115.1" width="15.0" height="34.2" fill="#ffffff"/>
<rect x="954.2" y="1115.1" width="5.5" height="5.5" fill="none" stroke="#a9a4a0" stroke-width="0.6"/>
<polygon points="954.2,1115.1 958.7,1115.1 954.2,1119.6" fill="#e8772e"/>
<path d="M973.0,1143.5 C974.0,1119.5 996.0,1119.5 998.0,1137.5" fill="none" stroke="#e8772e" stroke-width="1.0" stroke-dasharray="4,2.2"/>
<polygon points="1000.0,1142.5 994.7,1137.5 1000.8,1135.3" fill="#e8772e"/>
<rect x="935.0" y="913.2" width="38.5" height="80.0" fill="#fde2d1" stroke="#85553b" stroke-width="0.9" filter="url(#shb)" />
<rect x="935.0" y="976.0" width="38.5" height="17.2" fill="#e8772e"/>
<rect x="937.2" y="976.0" width="34.1" height="15.0" fill="#ffffff"/>
<rect x="937.2" y="970.5" width="5.5" height="5.5" fill="none" stroke="#a9a4a0" stroke-width="0.6"/>
<polygon points="937.2,976.0 941.7,976.0 937.2,971.5" fill="#e8772e"/>
<line x1="954.2" y1="932.7" x2="954.2" y2="957.9" stroke="#e8772e" stroke-width="1.4" stroke-linecap="butt" />
<polygon points="954.2,928.7 959.0,934.7 949.5,934.7" fill="#e8772e"/>
<polygon points="954.2,961.9 949.5,955.9 959.0,955.9" fill="#e8772e"/>
<rect x="935.0" y="1002.2" width="38.5" height="80.0" fill="#fde2d1" stroke="#85553b" stroke-width="0.9" filter="url(#shb)" />
<rect x="935.0" y="1002.2" width="38.5" height="17.2" fill="#e8772e"/>
<rect x="937.2" y="1004.4" width="34.1" height="15.0" fill="#ffffff"/>
<rect x="937.2" y="1019.4" width="5.5" height="5.5" fill="none" stroke="#a9a4a0" stroke-width="0.6"/>
<polygon points="937.2,1019.4 941.7,1019.4 937.2,1023.9" fill="#e8772e"/>
<line x1="954.2" y1="1037.5" x2="954.2" y2="1062.7" stroke="#e8772e" stroke-width="1.4" stroke-linecap="butt" />
<polygon points="954.2,1033.5 959.0,1039.5 949.5,1039.5" fill="#e8772e"/>
<polygon points="954.2,1066.7 949.5,1060.7 959.0,1060.7" fill="#e8772e"/>
<rect x="856.0" y="843.0" width="79.4" height="37.6" fill="#fde2d1" stroke="#85553b" stroke-width="0.9" filter="url(#shb)" />
<rect x="918.2" y="843.0" width="17.2" height="37.6" fill="#e8772e"/>
<rect x="918.2" y="844.2" width="15.0" height="34.2" fill="#ffffff"/>
<rect x="912.7" y="872.9" width="5.5" height="5.5" fill="none" stroke="#a9a4a0" stroke-width="0.6"/>
<polygon points="918.2,878.4 913.7,878.4 918.2,873.9" fill="#e8772e"/>
<path d="M874.1,851.0 C875.1,875.0 897.1,875.0 899.1,857.0" fill="none" stroke="#e8772e" stroke-width="1.0" stroke-dasharray="4,2.2"/>
<polygon points="901.1,852.0 901.9,859.2 895.8,857.0" fill="#e8772e"/>
<rect x="856.0" y="1113.9" width="79.4" height="37.6" fill="#fde2d1" stroke="#85553b" stroke-width="0.9" filter="url(#shb)" />
<rect x="918.2" y="1113.9" width="17.2" height="37.6" fill="#e8772e"/>
<rect x="918.2" y="1115.1" width="15.0" height="34.2" fill="#ffffff"/>
<rect x="912.7" y="1115.1" width="5.5" height="5.5" fill="none" stroke="#a9a4a0" stroke-width="0.6"/>
<polygon points="918.2,1115.1 913.7,1115.1 918.2,1119.6" fill="#e8772e"/>
<path d="M874.1,1143.5 C875.1,1119.5 897.1,1119.5 899.1,1137.5" fill="none" stroke="#e8772e" stroke-width="1.0" stroke-dasharray="4,2.2"/>
<polygon points="901.1,1142.5 895.8,1137.5 901.9,1135.3" fill="#e8772e"/>
<rect x="854.7" y="913.2" width="38.7" height="80.0" fill="#fde2d1" stroke="#85553b" stroke-width="0.9" filter="url(#shb)" />
<rect x="854.7" y="976.0" width="38.7" height="17.2" fill="#e8772e"/>
<rect x="856.9" y="976.0" width="34.3" height="15.0" fill="#ffffff"/>
<rect x="885.7" y="970.5" width="5.5" height="5.5" fill="none" stroke="#a9a4a0" stroke-width="0.6"/>
<polygon points="891.2,976.0 886.7,976.0 891.2,971.5" fill="#e8772e"/>
<path d="M863.7,957.6 C886.7,956.6 886.7,934.6 869.7,932.6" fill="none" stroke="#e8772e" stroke-width="1.1" stroke-dasharray="4,2.2"/>
<polygon points="863.7,930.6 870.9,929.8 868.7,935.9" fill="#e8772e"/>
<rect x="854.7" y="1002.2" width="38.7" height="80.0" fill="#fde2d1" stroke="#85553b" stroke-width="0.9" filter="url(#shb)" />
<rect x="854.7" y="1002.2" width="38.7" height="17.2" fill="#e8772e"/>
<rect x="856.9" y="1004.4" width="34.3" height="15.0" fill="#ffffff"/>
<rect x="885.7" y="1019.4" width="5.5" height="5.5" fill="none" stroke="#a9a4a0" stroke-width="0.6"/>
<polygon points="891.2,1019.4 886.7,1019.4 891.2,1023.9" fill="#e8772e"/>
<path d="M863.7,1037.8 C886.7,1038.8 886.7,1060.8 869.7,1062.8" fill="none" stroke="#e8772e" stroke-width="1.1" stroke-dasharray="4,2.2"/>
<polygon points="863.7,1064.8 868.7,1059.5 870.9,1065.6" fill="#e8772e"/>
<rect x="1066.6" y="848.6" width="44" height="38" rx="12" fill="#ecebf1" stroke="#e8844a" stroke-width="1.45"/>
<ellipse cx="1088.6" cy="867.6" rx="12" ry="13" fill="#e2d8da" filter="url(#blur4)"/>
<text x="1088.6" y="876.1" font-family="Liberation Sans" font-weight="bold" font-size="24" fill="#e8772e" text-anchor="middle">5</text>
<rect x="1066.6" y="1102.0" width="44" height="38" rx="12" fill="#ecebf1" stroke="#e8844a" stroke-width="1.45"/>
<ellipse cx="1088.6" cy="1121.0" rx="12" ry="13" fill="#e2d8da" filter="url(#blur4)"/>
<text x="1088.6" y="1129.5" font-family="Liberation Sans" font-weight="bold" font-size="24" fill="#e8772e" text-anchor="middle">7</text>
<rect x="1231.5" y="848.6" width="44" height="38" rx="12" fill="#ecebf1" stroke="#e8844a" stroke-width="1.45"/>
<ellipse cx="1253.5" cy="867.6" rx="12" ry="13" fill="#e2d8da" filter="url(#blur4)"/>
<text x="1253.5" y="876.1" font-family="Liberation Sans" font-weight="bold" font-size="24" fill="#e8772e" text-anchor="middle">6</text>
<rect x="1231.5" y="1102.0" width="44" height="38" rx="12" fill="#ecebf1" stroke="#e8844a" stroke-width="1.45"/>
<ellipse cx="1253.5" cy="1121.0" rx="12" ry="13" fill="#e2d8da" filter="url(#blur4)"/>
<text x="1253.5" y="1129.5" font-family="Liberation Sans" font-weight="bold" font-size="24" fill="#e8772e" text-anchor="middle">8</text>
<circle cx="1061.5" cy="942.5" r="2.2" fill="none" stroke="#446d80" stroke-width="1.45"/>
<path d="M1063.0,953.4 A5.7,5.7 0 1 0 1066.8,963.9" fill="none" stroke="#e8772e" stroke-width="3.4"/>
<circle cx="1064.0" cy="959.0" r="7.3" fill="none" stroke="#446d80" stroke-width="1.45"/>
<polyline points="1062.0,946.5 1063.0,957.5 1071.0,958.5 1077.5,964.5" fill="none" stroke="#446d80" stroke-width="1.45"/>
<path d="M1053.4,962.9 A11.3,11.3 0 0 0 1058.3,968.8" fill="none" stroke="#446d80" stroke-width="1.45"/>
<line x1="1075.5" y1="967.5" x2="1079.5" y2="967.5" stroke="#446d80" stroke-width="1.45" stroke-linecap="butt" />
<line x1="1073.5" y1="944.5" x2="1075.5" y2="941.5" stroke="#446d80" stroke-width="1.305" stroke-linecap="butt" />
<line x1="1076.0" y1="944.5" x2="1078.0" y2="941.5" stroke="#446d80" stroke-width="1.305" stroke-linecap="butt" />
<polyline points="1093.0,954.0 1093.0,941.5 1100.5,941.5" fill="none" stroke="#e8772e" stroke-width="2.6"/>
<polyline points="1091.0,967.5 1091.0,940.0 1105.5,940.0 1105.5,943.0" fill="none" stroke="#446d80" stroke-width="1.6"/>
<line x1="1102.5" y1="943.5" x2="1108.5" y2="943.5" stroke="#446d80" stroke-width="1.92" stroke-linecap="butt" />
<line x1="1088.0" y1="967.5" x2="1094.5" y2="967.5" stroke="#446d80" stroke-width="1.6" stroke-linecap="butt" />
<line x1="1102.5" y1="946.0" x2="1102.5" y2="950.0" stroke="#c9d0d6" stroke-width="1.0" stroke-linecap="butt" />
<line x1="1105.0" y1="946.0" x2="1105.0" y2="953.0" stroke="#c9d0d6" stroke-width="1.0" stroke-linecap="butt" />
<line x1="1107.5" y1="946.0" x2="1107.5" y2="949.0" stroke="#c9d0d6" stroke-width="1.0" stroke-linecap="butt" />
<line x1="1105.0" y1="955.0" x2="1105.0" y2="957.0" stroke="#c9d0d6" stroke-width="1.0" stroke-linecap="butt" />
<circle cx="1094.0" cy="956.0" r="1.6" fill="none" stroke="#c9d0d6" stroke-width="0.8"/>
<circle cx="1244.5" cy="942.5" r="2.2" fill="none" stroke="#446d80" stroke-width="1.45"/>
<path d="M1246.0,953.4 A5.7,5.7 0 1 0 1249.8,963.9" fill="none" stroke="#e8772e" stroke-width="3.4"/>
<circle cx="1247.0" cy="959.0" r="7.3" fill="none" stroke="#446d80" stroke-width="1.45"/>
<polyline points="1245.0,946.5 1246.0,957.5 1254.0,958.5 1260.5,964.5" fill="none" stroke="#446d80" stroke-width="1.45"/>
<path d="M1236.4,962.9 A11.3,11.3 0 0 0 1241.3,968.8" fill="none" stroke="#446d80" stroke-width="1.45"/>
<line x1="1258.5" y1="967.5" x2="1262.5" y2="967.5" stroke="#446d80" stroke-width="1.45" stroke-linecap="butt" />
<line x1="1256.5" y1="944.5" x2="1258.5" y2="941.5" stroke="#446d80" stroke-width="1.305" stroke-linecap="butt" />
<line x1="1259.0" y1="944.5" x2="1261.0" y2="941.5" stroke="#446d80" stroke-width="1.305" stroke-linecap="butt" />
<polyline points="1276.0,954.0 1276.0,941.5 1283.5,941.5" fill="none" stroke="#e8772e" stroke-width="2.6"/>
<polyline points="1274.0,967.5 1274.0,940.0 1288.5,940.0 1288.5,943.0" fill="none" stroke="#446d80" stroke-width="1.6"/>
<line x1="1285.5" y1="943.5" x2="1291.5" y2="943.5" stroke="#446d80" stroke-width="1.92" stroke-linecap="butt" />
<line x1="1271.0" y1="967.5" x2="1277.5" y2="967.5" stroke="#446d80" stroke-width="1.6" stroke-linecap="butt" />
<line x1="1285.5" y1="946.0" x2="1285.5" y2="950.0" stroke="#c9d0d6" stroke-width="1.0" stroke-linecap="butt" />
<line x1="1288.0" y1="946.0" x2="1288.0" y2="953.0" stroke="#c9d0d6" stroke-width="1.0" stroke-linecap="butt" />
<line x1="1290.5" y1="946.0" x2="1290.5" y2="949.0" stroke="#c9d0d6" stroke-width="1.0" stroke-linecap="butt" />
<line x1="1288.0" y1="955.0" x2="1288.0" y2="957.0" stroke="#c9d0d6" stroke-width="1.0" stroke-linecap="butt" />
<circle cx="1277.0" cy="956.0" r="1.6" fill="none" stroke="#c9d0d6" stroke-width="0.8"/>
<circle cx="1061.5" cy="1036.8" r="2.2" fill="none" stroke="#446d80" stroke-width="1.45"/>
<path d="M1063.0,1047.7 A5.7,5.7 0 1 0 1066.8,1058.2" fill="none" stroke="#e8772e" stroke-width="3.4"/>
<circle cx="1064.0" cy="1053.3" r="7.3" fill="none" stroke="#446d80" stroke-width="1.45"/>
<polyline points="1062.0,1040.8 1063.0,1051.8 1071.0,1052.8 1077.5,1058.8" fill="none" stroke="#446d80" stroke-width="1.45"/>
<path d="M1053.4,1057.2 A11.3,11.3 0 0 0 1058.3,1063.1" fill="none" stroke="#446d80" stroke-width="1.45"/>
<line x1="1075.5" y1="1061.8" x2="1079.5" y2="1061.8" stroke="#446d80" stroke-width="1.45" stroke-linecap="butt" />
<line x1="1073.5" y1="1038.8" x2="1075.5" y2="1035.8" stroke="#446d80" stroke-width="1.305" stroke-linecap="butt" />
<line x1="1076.0" y1="1038.8" x2="1078.0" y2="1035.8" stroke="#446d80" stroke-width="1.305" stroke-linecap="butt" />
<polyline points="1093.0,1048.3 1093.0,1035.8 1100.5,1035.8" fill="none" stroke="#e8772e" stroke-width="2.6"/>
<polyline points="1091.0,1061.8 1091.0,1034.3 1105.5,1034.3 1105.5,1037.3" fill="none" stroke="#446d80" stroke-width="1.6"/>
<line x1="1102.5" y1="1037.8" x2="1108.5" y2="1037.8" stroke="#446d80" stroke-width="1.92" stroke-linecap="butt" />
<line x1="1088.0" y1="1061.8" x2="1094.5" y2="1061.8" stroke="#446d80" stroke-width="1.6" stroke-linecap="butt" />
<line x1="1102.5" y1="1040.3" x2="1102.5" y2="1044.3" stroke="#c9d0d6" stroke-width="1.0" stroke-linecap="butt" />
<line x1="1105.0" y1="1040.3" x2="1105.0" y2="1047.3" stroke="#c9d0d6" stroke-width="1.0" stroke-linecap="butt" />
<line x1="1107.5" y1="1040.3" x2="1107.5" y2="1043.3" stroke="#c9d0d6" stroke-width="1.0" stroke-linecap="butt" />
<line x1="1105.0" y1="1049.3" x2="1105.0" y2="1051.3" stroke="#c9d0d6" stroke-width="1.0" stroke-linecap="butt" />
<circle cx="1094.0" cy="1050.3" r="1.6" fill="none" stroke="#c9d0d6" stroke-width="0.8"/>
<circle cx="1244.5" cy="1036.8" r="2.2" fill="none" stroke="#446d80" stroke-width="1.45"/>
<path d="M1246.0,1047.7 A5.7,5.7 0 1 0 1249.8,1058.2" fill="none" stroke="#e8772e" stroke-width="3.4"/>
<circle cx="1247.0" cy="1053.3" r="7.3" fill="none" stroke="#446d80" stroke-width="1.45"/>
<polyline points="1245.0,1040.8 1246.0,1051.8 1254.0,1052.8 1260.5,1058.8" fill="none" stroke="#446d80" stroke-width="1.45"/>
<path d="M1236.4,1057.2 A11.3,11.3 0 0 0 1241.3,1063.1" fill="none" stroke="#446d80" stroke-width="1.45"/>
<line x1="1258.5" y1="1061.8" x2="1262.5" y2="1061.8" stroke="#446d80" stroke-width="1.45" stroke-linecap="butt" />
<line x1="1256.5" y1="1038.8" x2="1258.5" y2="1035.8" stroke="#446d80" stroke-width="1.305" stroke-linecap="butt" />
<line x1="1259.0" y1="1038.8" x2="1261.0" y2="1035.8" stroke="#446d80" stroke-width="1.305" stroke-linecap="butt" />
<polyline points="1276.0,1048.3 1276.0,1035.8 1283.5,1035.8" fill="none" stroke="#e8772e" stroke-width="2.6"/>
<polyline points="1274.0,1061.8 1274.0,1034.3 1288.5,1034.3 1288.5,1037.3" fill="none" stroke="#446d80" stroke-width="1.6"/>
<line x1="1285.5" y1="1037.8" x2="1291.5" y2="1037.8" stroke="#446d80" stroke-width="1.92" stroke-linecap="butt" />
<line x1="1271.0" y1="1061.8" x2="1277.5" y2="1061.8" stroke="#446d80" stroke-width="1.6" stroke-linecap="butt" />
<line x1="1285.5" y1="1040.3" x2="1285.5" y2="1044.3" stroke="#c9d0d6" stroke-width="1.0" stroke-linecap="butt" />
<line x1="1288.0" y1="1040.3" x2="1288.0" y2="1047.3" stroke="#c9d0d6" stroke-width="1.0" stroke-linecap="butt" />
<line x1="1290.5" y1="1040.3" x2="1290.5" y2="1043.3" stroke="#c9d0d6" stroke-width="1.0" stroke-linecap="butt" />
<line x1="1288.0" y1="1049.3" x2="1288.0" y2="1051.3" stroke="#c9d0d6" stroke-width="1.0" stroke-linecap="butt" />
<circle cx="1277.0" cy="1050.3" r="1.6" fill="none" stroke="#c9d0d6" stroke-width="0.8"/>
<rect x="1125.4" y="848.6" width="3.6" height="36.4" fill="#fff8f1" stroke="#e9a77a" stroke-width="0.6"/>
<polyline points="1127.2,848.6 1115.2,850.6 1127.2,885.0" fill="none" stroke="#e39a6a" stroke-width="0.65"/>
<rect x="1125.4" y="1110.0" width="3.6" height="37.0" fill="#fff8f1" stroke="#e9a77a" stroke-width="0.6"/>
<polyline points="1127.2,1110.0 1115.2,1145.0 1127.2,1147.0" fill="none" stroke="#e39a6a" stroke-width="0.65"/>
<rect x="1209.4" y="848.6" width="3.6" height="36.4" fill="#fff8f1" stroke="#e9a77a" stroke-width="0.6"/>
<polyline points="1211.2,848.6 1223.2,850.6 1211.2,885.0" fill="none" stroke="#e39a6a" stroke-width="0.65"/>
<rect x="1209.4" y="1110.0" width="3.6" height="37.0" fill="#fff8f1" stroke="#e9a77a" stroke-width="0.6"/>
<polyline points="1211.2,1110.0 1223.2,1145.0 1211.2,1147.0" fill="none" stroke="#e39a6a" stroke-width="0.65"/>
<rect x="1036.5" y="896.6" width="35.5" height="3.6" fill="#fff8f1" stroke="#e9a77a" stroke-width="0.6"/>
<polyline points="1036.5,898.4 1039.0,886.9 1072.0,898.4" fill="none" stroke="#e39a6a" stroke-width="0.65"/>
<rect x="1036.5" y="1095.7" width="35.5" height="3.6" fill="#fff8f1" stroke="#e9a77a" stroke-width="0.6"/>
<polyline points="1036.5,1097.5 1039.0,1109.0 1072.0,1097.5" fill="none" stroke="#e39a6a" stroke-width="0.65"/>
<rect x="1266.5" y="896.6" width="35.5" height="3.6" fill="#fff8f1" stroke="#e9a77a" stroke-width="0.6"/>
<polyline points="1266.5,898.4 1299.5,886.9 1302.0,898.4" fill="none" stroke="#e39a6a" stroke-width="0.65"/>
<rect x="1266.5" y="1095.7" width="35.5" height="3.6" fill="#fff8f1" stroke="#e9a77a" stroke-width="0.6"/>
<polyline points="1266.5,1097.5 1299.5,1109.0 1302.0,1097.5" fill="none" stroke="#e39a6a" stroke-width="0.65"/>
<rect x="1171" y="1153.3" width="36.7" height="3.6" fill="#fff8f1" stroke="#e9a77a" stroke-width="0.6"/>
<polyline points="1171,1155 1175,1167 1207.7,1155" fill="none" stroke="#e39a6a" stroke-width="0.65"/>
<rect x="726" y="35.9" width="73" height="7.2" fill="#ffffff"/>
<rect x="728" y="36.2" width="69" height="2.4" fill="#f9e3d2" stroke="#e6ac85" stroke-width="0.5"/>
<rect x="726" y="36" width="2.5" height="6.3" fill="#fdf0e6" stroke="#e9b08a" stroke-width="0.5"/>
<rect x="760.5" y="36" width="4.0" height="6.3" fill="#fdf0e6" stroke="#e9b08a" stroke-width="0.5"/>
<rect x="796.5" y="36" width="2.5" height="6.3" fill="#fdf0e6" stroke="#e9b08a" stroke-width="0.5"/>
<path d="M728.2,37 V4 A33,33 0 0 1 761.2,37" fill="none" stroke="#e39a6a" stroke-width="0.65"/>
<path d="M796.8,37 V4 A33,33 0 0 0 763.8,37" fill="none" stroke="#e39a6a" stroke-width="0.65"/>
<rect x="678.2" y="147.5" width="3.6" height="36.5" fill="#fff8f1" stroke="#e9a77a" stroke-width="0.6"/>
<polyline points="680.0,147.5 692.5,182.0 680.0,184.0" fill="none" stroke="#e39a6a" stroke-width="0.65"/>
<rect x="678.2" y="188.5" width="3.6" height="34.0" fill="#fff8f1" stroke="#e9a77a" stroke-width="0.6"/>
<polyline points="680.0,188.5 692.5,190.5 680.0,222.5" fill="none" stroke="#e39a6a" stroke-width="0.65"/>
<line x1="680.0" y1="184.0" x2="680.0" y2="188.5" stroke="#1d4452" stroke-width="4" stroke-linecap="butt" />
<rect x="693.0" y="356.2" width="36.0" height="3.6" fill="#fff8f1" stroke="#e9a77a" stroke-width="0.6"/>
<polyline points="693.0,358.0 726.5,346.0 729.0,358.0" fill="none" stroke="#e39a6a" stroke-width="0.65"/>
<rect x="743.2" y="384.5" width="3.6" height="36.5" fill="#fff8f1" stroke="#e9a77a" stroke-width="0.6"/>
<polyline points="745.0,384.5 732.5,386.5 745.0,421.0" fill="none" stroke="#e39a6a" stroke-width="0.65"/>
<rect x="743.2" y="456.7" width="3.6" height="36.3" fill="#fff8f1" stroke="#e9a77a" stroke-width="0.6"/>
<polyline points="745.0,456.7 732.5,458.7 745.0,493.0" fill="none" stroke="#e39a6a" stroke-width="0.65"/>
<rect x="779.2" y="521.0" width="3.6" height="36.3" fill="#fff8f1" stroke="#e9a77a" stroke-width="0.6"/>
<polyline points="781.0,521.0 768.5,523.0 781.0,557.3" fill="none" stroke="#e39a6a" stroke-width="0.65"/>
<rect x="885.7" y="381.0" width="3.6" height="35.5" fill="#fff8f1" stroke="#e9a77a" stroke-width="0.6"/>
<polyline points="887.5,381.0 900.0,383.0 887.5,416.5" fill="none" stroke="#e39a6a" stroke-width="0.65"/>
<rect x="885.7" y="449.4" width="3.6" height="35.6" fill="#fff8f1" stroke="#e9a77a" stroke-width="0.6"/>
<polyline points="887.5,449.4 900.0,451.4 887.5,485.0" fill="none" stroke="#e39a6a" stroke-width="0.65"/>
<rect x="262" y="677.6" width="72.5" height="6" fill="#fdf2ea" stroke="#e9a77a" stroke-width="0.6"/>
<rect x="262" y="677.6" width="4" height="6" fill="#fdf2ea" stroke="#e9a77a" stroke-width="0.6"/>
<rect x="294.5" y="677.6" width="7.5" height="6" fill="#fdf2ea" stroke="#e9a77a" stroke-width="0.6"/>
<rect x="330.5" y="677.6" width="4.0" height="6" fill="#fdf2ea" stroke="#e9a77a" stroke-width="0.6"/>
<path d="M264,683 V715 A33,33 0 0 0 297,683" fill="none" stroke="#e39a6a" stroke-width="0.65"/>
<path d="M332.5,683 V715 A33,33 0 0 1 299.5,683" fill="none" stroke="#e39a6a" stroke-width="0.65"/>
<circle cx="781.5" cy="385.7" r="2.2" fill="none" stroke="#446d80" stroke-width="1.45"/>
<path d="M782.8,395.5 A6.8,6.8 0 1 0 787.4,408.1" fill="none" stroke="#e8772e" stroke-width="3.4"/>
<circle cx="784.0" cy="402.2" r="8.4" fill="none" stroke="#446d80" stroke-width="1.45"/>
<polyline points="782.0,389.7 783.0,400.7 791.0,401.7 797.5,407.7" fill="none" stroke="#446d80" stroke-width="1.45"/>
<path d="M772.3,406.4 A12.4,12.4 0 0 0 777.8,412.9" fill="none" stroke="#446d80" stroke-width="1.45"/>
<line x1="795.5" y1="410.7" x2="799.5" y2="410.7" stroke="#446d80" stroke-width="1.45" stroke-linecap="butt" />
<line x1="793.5" y1="387.7" x2="795.5" y2="384.7" stroke="#446d80" stroke-width="1.305" stroke-linecap="butt" />
<line x1="796.0" y1="387.7" x2="798.0" y2="384.7" stroke="#446d80" stroke-width="1.305" stroke-linecap="butt" />
<circle cx="814.5" cy="385.7" r="2.4" fill="none" stroke="#446d80" stroke-width="1.4"/>
<line x1="813.3" y1="389.7" x2="813.3" y2="408.5" stroke="#446d80" stroke-width="1.4" stroke-linecap="round" />
<line x1="815.7" y1="389.7" x2="816.1" y2="408.5" stroke="#446d80" stroke-width="1.4" stroke-linecap="round" />
<line x1="813.9" y1="390.1" x2="808.3" y2="396.0" stroke="#446d80" stroke-width="1.4" stroke-linecap="round" />
<line x1="815.1" y1="390.1" x2="820.7" y2="396.0" stroke="#446d80" stroke-width="1.4" stroke-linecap="round" />
<polygon points="813.7,389.9 808.9,402.0 814.5,402.0 814.5,389.9" fill="#446d80"/>
<line x1="819.5" y1="408.5" x2="821.7" y2="405.0" stroke="#446d80" stroke-width="1.19" stroke-linecap="round" />
<line x1="822.8" y1="408.5" x2="825.0" y2="405.0" stroke="#446d80" stroke-width="1.19" stroke-linecap="round" />
<circle cx="831.5" cy="445.5" r="2.4" fill="none" stroke="#446d80" stroke-width="1.4"/>
<line x1="830.3" y1="449.5" x2="830.3" y2="468.3" stroke="#446d80" stroke-width="1.4" stroke-linecap="round" />
<line x1="832.7" y1="449.5" x2="833.1" y2="468.3" stroke="#446d80" stroke-width="1.4" stroke-linecap="round" />
<line x1="830.9" y1="449.9" x2="825.3" y2="455.8" stroke="#446d80" stroke-width="1.4" stroke-linecap="round" />
<line x1="832.1" y1="449.9" x2="837.7" y2="455.8" stroke="#446d80" stroke-width="1.4" stroke-linecap="round" />
<line x1="836.5" y1="468.3" x2="838.7" y2="464.8" stroke="#446d80" stroke-width="1.19" stroke-linecap="round" />
<line x1="839.8" y1="468.3" x2="842.0" y2="464.8" stroke="#446d80" stroke-width="1.19" stroke-linecap="round" />
<circle cx="831.5" cy="482.2" r="2.4" fill="none" stroke="#446d80" stroke-width="1.4"/>
<line x1="830.3" y1="486.2" x2="830.3" y2="505.0" stroke="#446d80" stroke-width="1.4" stroke-linecap="round" />
<line x1="832.7" y1="486.2" x2="833.1" y2="505.0" stroke="#446d80" stroke-width="1.4" stroke-linecap="round" />
<line x1="830.9" y1="486.6" x2="825.3" y2="492.5" stroke="#446d80" stroke-width="1.4" stroke-linecap="round" />
<line x1="832.1" y1="486.6" x2="837.7" y2="492.5" stroke="#446d80" stroke-width="1.4" stroke-linecap="round" />
<line x1="836.5" y1="505.0" x2="838.7" y2="501.5" stroke="#446d80" stroke-width="1.19" stroke-linecap="round" />
<line x1="839.8" y1="505.0" x2="842.0" y2="501.5" stroke="#446d80" stroke-width="1.19" stroke-linecap="round" />
<circle cx="815.5" cy="527.8" r="2.4" fill="none" stroke="#446d80" stroke-width="1.4"/>
<line x1="814.3" y1="531.8" x2="814.3" y2="550.6" stroke="#446d80" stroke-width="1.4" stroke-linecap="round" />
<line x1="816.7" y1="531.8" x2="817.1" y2="550.6" stroke="#446d80" stroke-width="1.4" stroke-linecap="round" />
<line x1="814.9" y1="532.2" x2="809.3" y2="538.1" stroke="#446d80" stroke-width="1.4" stroke-linecap="round" />
<line x1="816.1" y1="532.2" x2="821.7" y2="538.1" stroke="#446d80" stroke-width="1.4" stroke-linecap="round" />
<polygon points="814.7,532.0 809.9,544.1 815.5,544.1 815.5,532.0" fill="#446d80"/>
<line x1="820.5" y1="550.6" x2="822.7" y2="547.1" stroke="#446d80" stroke-width="1.19" stroke-linecap="round" />
<line x1="823.8" y1="550.6" x2="826.0" y2="547.1" stroke="#446d80" stroke-width="1.19" stroke-linecap="round" />
<rect x="896.8" y="1215.6" width="37.1" height="79.2" rx="2" fill="#e8772e" stroke="#4f6470" stroke-width="2.6"/>
<rect x="900.0" y="1219.0" width="30.7" height="72.4" fill="#fbe1d1" stroke="#566c78" stroke-width="1"/>
<rect x="900.0" y="1219.0" width="30.7" height="14.2" fill="#ffffff" stroke="#566c78" stroke-width="1"/>
<polygon points="900.0,1233.2 906.6,1233.2 900.0,1239.4" fill="#e8772e"/>
<path d="M900.6,1239.4 L906.6,1233.8" stroke="#6d8aa0" stroke-width="1"/>
<line x1="915.4" y1="1251.4" x2="915.4" y2="1275.4" stroke="#e8772e" stroke-width="2.6" stroke-linecap="butt" />
<polygon points="915.4,1245.9 922.1,1253.4 908.6,1253.4" fill="#e8772e"/>
<polygon points="915.4,1280.9 908.6,1273.4 922.1,1273.4" fill="#e8772e"/>
<text x="964" y="1249.7" font-family="Liberation Sans" font-size="22.5" letter-spacing="0.45" fill="#e8772e" stroke="#e8772e" stroke-width="0.55">Hoog-laag</text>
<text x="964" y="1278.7" font-family="Liberation Sans" font-size="22.5" letter-spacing="0.45" fill="#e8772e" stroke="#e8772e" stroke-width="0.55">bed</text>
<rect x="1145.4" y="1215.6" width="37.1" height="79.2" rx="2" fill="#e8772e" stroke="#4f6470" stroke-width="2.6"/>
<rect x="1148.6" y="1219.0" width="30.7" height="72.4" fill="#fbe1d1" stroke="#566c78" stroke-width="1"/>
<rect x="1148.6" y="1219.0" width="30.7" height="14.2" fill="#ffffff" stroke="#566c78" stroke-width="1"/>
<polygon points="1148.6,1233.2 1155.2,1233.2 1148.6,1239.4" fill="#e8772e"/>
<path d="M1149.2,1239.4 L1155.2,1233.8" stroke="#6d8aa0" stroke-width="1"/>
<path d="M1165.2,1280.4 C1178.2,1272.4 1177.2,1256.4 1162.2,1252.4" fill="none" stroke="#e8772e" stroke-width="2.2"/>
<polygon points="1156.7,1249.9 1165.6,1249.7 1162.3,1256.9" fill="#e8772e"/>
<line x1="1152.7" y1="1284.4" x2="1159.2" y2="1284.4" stroke="#e8772e" stroke-width="2" stroke-linecap="butt" />
<text x="1216" y="1264.2" font-family="Liberation Sans" font-size="22.5" letter-spacing="0.45" fill="#e8772e" stroke="#e8772e" stroke-width="0.55">Extra bed</text>
<circle cx="1415.3" cy="1227.0" r="7.1" fill="none" stroke="#446d80" stroke-width="2.6"/>
<line x1="1411.8" y1="1238.8" x2="1411.8" y2="1294.3" stroke="#446d80" stroke-width="2.6" stroke-linecap="round" />
<line x1="1418.8" y1="1238.8" x2="1420.0" y2="1294.3" stroke="#446d80" stroke-width="2.6" stroke-linecap="round" />
<line x1="1413.5" y1="1240.0" x2="1397.0" y2="1257.4" stroke="#446d80" stroke-width="2.6" stroke-linecap="round" />
<line x1="1417.1" y1="1240.0" x2="1433.6" y2="1257.4" stroke="#446d80" stroke-width="2.6" stroke-linecap="round" />
<polygon points="1412.9,1239.4 1398.8,1275.1 1415.3,1275.1 1415.3,1239.4" fill="#446d80"/>
<line x1="1430.0" y1="1294.3" x2="1436.5" y2="1284.0" stroke="#446d80" stroke-width="2.21" stroke-linecap="round" />
<line x1="1439.8" y1="1294.3" x2="1446.3" y2="1284.0" stroke="#446d80" stroke-width="2.21" stroke-linecap="round" />
<text x="1461" y="1264.2" font-family="Liberation Sans" font-size="22.5" letter-spacing="0.45" fill="#e8772e" stroke="#e8772e" stroke-width="0.55">Toilet</text>
<path d="M962,1321 H983 Q987,1321 987,1325 V1325 H962 Z" fill="#e8772e"/>
<rect x="959" y="1321" width="7.5" height="41" fill="#e8772e"/>
<path d="M957,1397 V1322 Q957,1318.5 960.5,1318.5 H993.5 Q997,1318.5 997,1322 V1331" fill="none" stroke="#446d80" stroke-width="3.6"/>
<line x1="987.5" y1="1331.0" x2="1005.0" y2="1331.0" stroke="#446d80" stroke-width="3.6" stroke-linecap="round" />
<line x1="949.5" y1="1396.5" x2="964.5" y2="1396.5" stroke="#446d80" stroke-width="3.6" stroke-linecap="round" />
<circle cx="966" cy="1371" r="5.2" fill="none" stroke="#c9cfd3" stroke-width="2.8"/>
<line x1="990.0" y1="1337.0" x2="990.0" y2="1345.0" stroke="#cdd2d6" stroke-width="2.6" stroke-linecap="round" />
<line x1="990.0" y1="1352.0" x2="990.0" y2="1360.0" stroke="#cdd2d6" stroke-width="2.6" stroke-linecap="round" />
<line x1="996.0" y1="1341.0" x2="996.0" y2="1350.0" stroke="#cdd2d6" stroke-width="2.6" stroke-linecap="round" />
<line x1="996.0" y1="1364.0" x2="996.0" y2="1371.0" stroke="#cdd2d6" stroke-width="2.6" stroke-linecap="round" />
<line x1="1002.0" y1="1336.0" x2="1002.0" y2="1343.0" stroke="#cdd2d6" stroke-width="2.6" stroke-linecap="round" />
<line x1="1002.0" y1="1352.0" x2="1002.0" y2="1360.0" stroke="#cdd2d6" stroke-width="2.6" stroke-linecap="round" />
<text x="1023" y="1348.7" font-family="Liberation Sans" font-size="22.5" letter-spacing="0.45" fill="#e8772e" stroke="#e8772e" stroke-width="0.55">Badkamer</text>
<text x="1023" y="1377.7" font-family="Liberation Sans" font-size="22.5" letter-spacing="0.45" fill="#e8772e" stroke="#e8772e" stroke-width="0.55">met toilet</text>
<circle cx="1252.5" cy="1325.3" r="6.6" fill="none" stroke="#446d80" stroke-width="3.2"/>
<path d="M1245.3,1357.5 A17,17 0 1 0 1271,1385.5" fill="none" stroke="#e8772e" stroke-width="7.5" stroke-linecap="round"/>
<circle cx="1259" cy="1373" r="23" fill="none" stroke="#446d80" stroke-width="3.2"/>
<polyline points="1254.4,1337.5 1259.5,1369.8 1282.5,1371.8 1301.5,1388" fill="none" stroke="#446d80" stroke-width="3.2" stroke-linecap="round" stroke-linejoin="round"/>
<path d="M1222.5,1371 Q1226,1388 1238.4,1396.6" fill="none" stroke="#446d80" stroke-width="3.2" stroke-linecap="round"/>
<line x1="1293.5" y1="1396.0" x2="1304.0" y2="1396.0" stroke="#446d80" stroke-width="3.2" stroke-linecap="round" />
<line x1="1286.5" y1="1330.0" x2="1292.0" y2="1319.5" stroke="#446d80" stroke-width="3" stroke-linecap="round" />
<line x1="1293.0" y1="1330.0" x2="1298.5" y2="1319.5" stroke="#446d80" stroke-width="3" stroke-linecap="round" />
<text x="1316" y="1350.7" font-family="Liberation Sans" font-size="22.5" letter-spacing="0.45" fill="#e8772e" stroke="#e8772e" stroke-width="0.55">Geschikt voor</text>
<text x="1316" y="1380.4" font-family="Liberation Sans" font-size="22.5" letter-spacing="0.45" fill="#e8772e" stroke="#e8772e" stroke-width="0.55">minder-validen</text>
<text x="768" y="96" font-family="Liberation Sans" font-style="italic" font-size="25" fill="#ea7d33" stroke="#ea7d33" stroke-width="0.3" text-anchor="middle" filter="url(#glow)">Entree</text>
<text x="442" y="218" font-family="Liberation Sans" font-style="italic" font-size="25" fill="#ea7d33" stroke="#ea7d33" stroke-width="0.3" text-anchor="middle" filter="url(#glow)">Bar en</text>
<text x="443" y="251" font-family="Liberation Sans" font-style="italic" font-size="25" fill="#ea7d33" stroke="#ea7d33" stroke-width="0.3" text-anchor="middle" filter="url(#glow)">woonkamer</text>
<text x="312" y="614" font-family="Liberation Sans" font-style="italic" font-size="24" fill="#ea7d33" stroke="#ea7d33" stroke-width="0.3" text-anchor="middle" filter="url(#glow)">Keuken</text>
<text x="1084" y="386" font-family="Liberation Sans" font-style="italic" font-size="25" fill="#ea7d33" stroke="#ea7d33" stroke-width="0.3" text-anchor="middle" filter="url(#glow)">Speelruimte</text>
<text x="1045" y="483" font-family="Liberation Sans" font-style="italic" font-size="25" fill="#ea7d33" stroke="#ea7d33" stroke-width="0.3" text-anchor="middle" filter="url(#glow)">Hal</text>
<text x="787" y="464" font-family="Liberation Sans" font-style="italic" font-size="24" fill="#ea7d33" stroke="#ea7d33" stroke-width="0.3" text-anchor="middle" filter="url(#glow)">Toilet</text>
<text x="786" y="497" font-family="Liberation Sans" font-style="italic" font-size="24" fill="#ea7d33" stroke="#ea7d33" stroke-width="0.3" text-anchor="middle" filter="url(#glow)">groep</text>
<text x="448" y="828" font-family="Liberation Sans" font-style="italic" font-size="25" fill="#ea7d33" stroke="#ea7d33" stroke-width="0.3" text-anchor="middle" filter="url(#glow)">Overdekt</text>
<text x="451" y="860" font-family="Liberation Sans" font-style="italic" font-size="25" fill="#ea7d33" stroke="#ea7d33" stroke-width="0.3" text-anchor="middle" filter="url(#glow)">terras</text>
<text x="395.5" y="1346.5" font-family="Liberation Sans" font-style="italic" font-size="25" fill="#ea7d33" stroke="#ea7d33" stroke-width="0.3" text-anchor="middle" filter="url(#glow)">Groot recreatieterrein</text>
</svg>
</body></html>
